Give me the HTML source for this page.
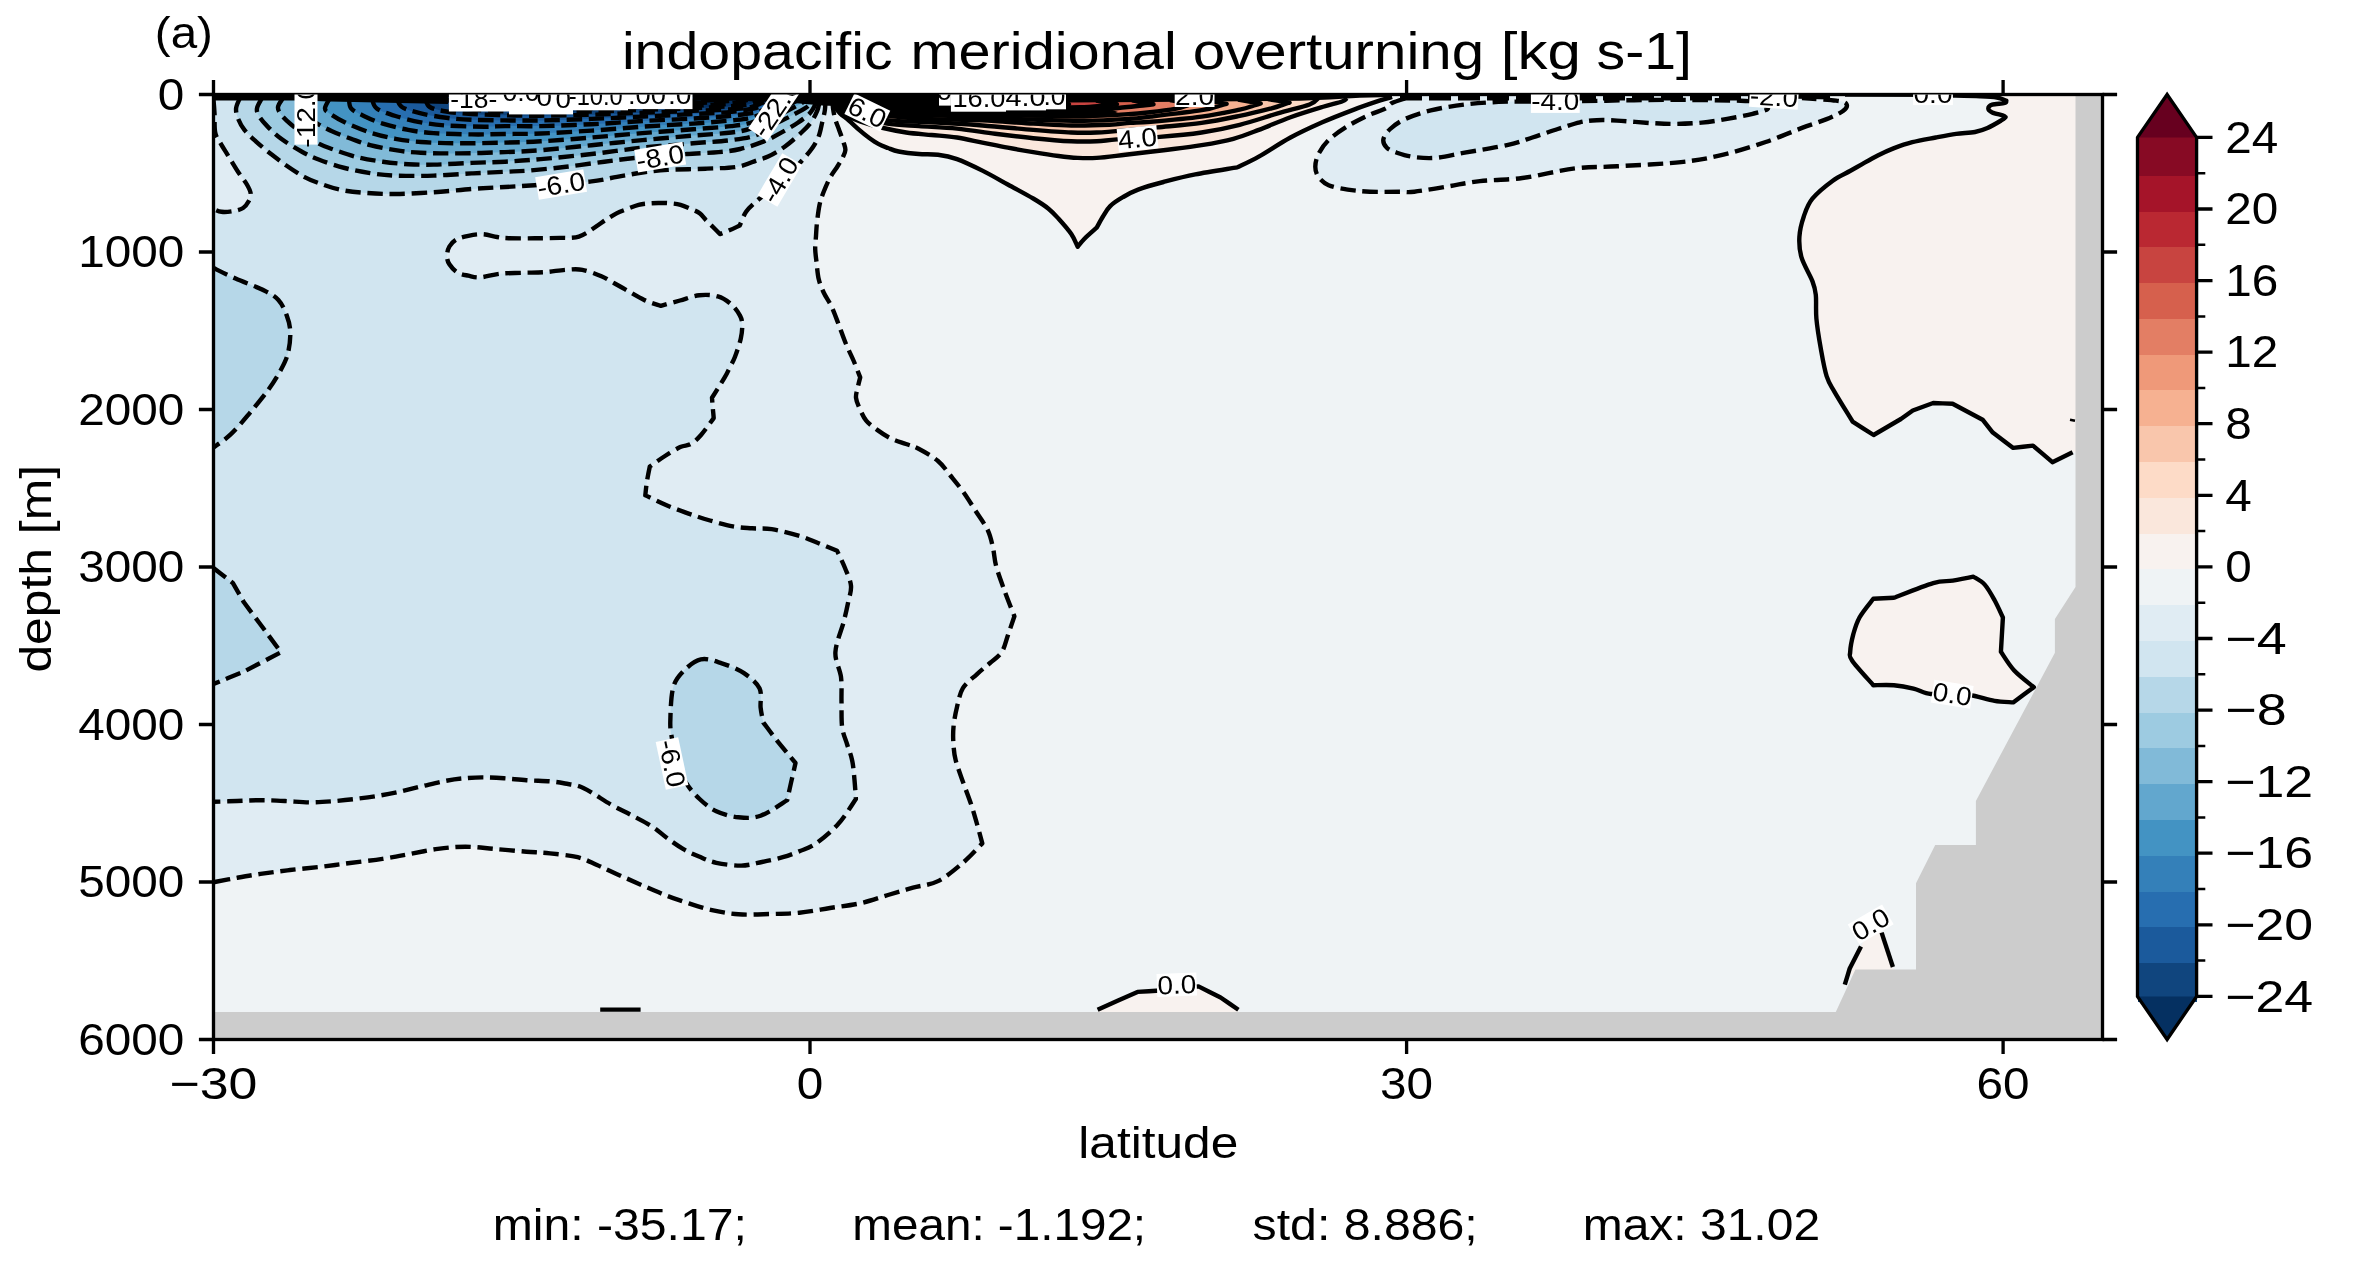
<!DOCTYPE html>
<html lang="en"><head><meta charset="utf-8"><title>indopacific meridional overturning</title>
<style>html,body{margin:0;padding:0;background:#fff;width:2362px;height:1263px}svg{display:block;will-change:transform;transform:translateZ(0)}text{font-family:"Liberation Sans", sans-serif;fill:#000}</style>
</head><body>
<svg width="2362" height="1263" viewBox="0 0 2362 1263">
<rect width="2362" height="1263" fill="#fff"/>
<defs><clipPath id="ax"><rect x="213.5" y="94.5" width="1889" height="945"/></clipPath></defs>
<g clip-path="url(#ax)">
<g>
<rect x="211.5" y="92.5" width="1893" height="949" fill="#eff3f5"/>
<path d="M832.5 100 C832.6 101.3 832.6 104.9 833 108 C833.4 111.1 834 114.8 835 118.5 C836 122.2 837.9 126.5 839.3 130.4 C840.7 134.3 842.5 138.9 843.5 142.2 C844.5 145.5 845.5 147.4 845.4 150 C845.3 152.6 844 154.8 842.7 157.5 C841.4 160.2 839.5 163.1 837.4 166.5 C835.3 169.9 832.4 173.4 830 177.8 C827.6 182.2 825 188.5 823.2 193 C821.5 197.5 820.5 200.1 819.5 205 C818.5 209.9 817.6 217.2 817 222.4 C816.4 227.6 816.3 231.6 816 236 C815.7 240.4 815.1 244.7 815.2 249 C815.3 253.3 815.9 257 816.5 262 C817.1 267 817.5 274 818.7 279.1 C819.9 284.2 821.7 288.2 823.8 292.7 C825.9 297.2 829 301.1 831.4 306.2 C833.8 311.3 835.8 317 838.2 323.2 C840.6 329.4 843.2 337.3 845.8 343.5 C848.3 349.7 851.1 354.9 853.5 360.5 C855.9 366.1 859.1 374.6 860.2 377.4 C859.8 379.1 858.4 384.2 857.7 387.6 C857 391 855.7 394.3 856 397.7 C856.3 401.1 857.7 404.1 859.4 407.9 C861.1 411.7 863.2 416.9 866.2 420.6 C869.2 424.3 873.1 426.9 877.2 429.9 C881.3 432.9 885.9 436 890.7 438.4 C895.5 440.8 901.4 442.3 906 444 C910.6 445.7 913.3 446 918.6 448.8 C923.9 451.6 932.8 456.6 938 461 C943.2 465.4 945.9 469.9 950 475 C954.1 480.1 958.7 485.6 962.9 491.4 C967.1 497.2 970.9 503.5 975 510 C979.1 516.5 984.8 523.9 987.8 530.2 C990.8 536.5 991.6 542 993 548 C994.4 554 994.2 559 996.2 566.3 C998.2 573.6 1002 583.7 1005 592 C1008 600.3 1012.8 612.2 1014.4 616.2 C1013.3 619.3 1010.1 629 1008 635 C1005.9 641 1004.7 647.5 1001.7 652.2 C998.7 656.9 994.1 659.3 990 663 C985.9 666.7 981.3 670.1 976.8 674.3 C972.3 678.5 966.2 682.8 962.9 688.2 C959.6 693.7 958.6 700.5 957 707 C955.4 713.5 954.1 720.7 953.5 727 C952.9 733.3 953.1 739.5 953.5 745 C953.9 750.5 954.1 754 955.7 760.2 C957.3 766.4 960.4 774.6 963 782 C965.6 789.4 968.9 797.6 971.2 804.6 C973.5 811.6 975.1 817.5 977 824 C978.9 830.5 981.4 840.2 982.3 843.4 C979.1 846.6 970.3 856.5 962.9 862.8 C955.5 869.1 946.3 877 938 881.1 C929.7 885.2 921.3 885.4 913 887.7 C904.7 890 896.8 892.4 888 895 C879.2 897.6 870.1 901 860.4 903.2 C850.7 905.4 840.2 906.4 830 908 C819.8 909.6 809.4 911.7 799.4 912.7 C789.4 913.7 780.2 913.7 770 914 C759.8 914.3 748.3 915 738.4 914.3 C728.5 913.6 719.6 911.9 710.7 909.9 C701.8 907.9 693.3 904.8 685 902 C676.7 899.2 672.2 898 660.8 893.3 C649.4 888.6 627.1 878.6 616.5 873.9 C605.9 869.2 603.5 867.8 597 865 C590.5 862.2 585.5 859.1 577.7 857.2 C569.9 855.3 558.5 854.3 550 853.4 C541.5 852.5 535.7 852.4 526.5 851.7 C517.3 851 505.1 849.8 495 849 C484.9 848.2 475.1 846.7 465.6 846.7 C456.1 846.7 447.1 847.7 437.8 848.9 C428.5 850.1 419.2 852.3 410 854 C400.8 855.7 392.4 857.4 382.4 858.9 C372.4 860.4 360.1 861.7 350 863 C339.9 864.3 331.5 865.5 321.5 866.7 C311.5 867.9 300.2 868.8 290 870 C279.8 871.2 269.5 872.6 260.5 873.9 C251.5 875.2 243.8 876.6 236 878 C228.2 879.4 217.2 881.5 213.5 882.2 L211.5 882.2 L211.5 92.5 L832.5 92.5Z" fill="#e0ecf3"/>
<path d="M825.5 100 C825.4 101.7 825.4 106.3 824.9 110 C824.4 113.7 823.3 117.7 822.3 121.9 C821.3 126.1 820.4 131.5 819 135.4 C817.6 139.3 816 142.2 813.9 145.6 C811.8 149 809 152.4 806.2 155.8 C803.4 159.2 800.7 162 797 166 C793.3 170 788.5 176 784 180 C779.5 184 774.6 186.5 770 190 C765.4 193.5 760.6 197.6 756.6 201.2 C752.6 204.8 748.9 207.7 746.1 211.8 C743.3 215.9 740.8 223.3 739.7 225.6 C738.1 226.3 733.3 228.6 730 230 C726.7 231.4 721.6 233.4 719.9 234.1 C718.8 232.9 715.3 229.3 713 227 C710.7 224.7 708.1 222.3 705.9 220.1 C703.7 217.8 702.1 215.2 700 213.5 C697.9 211.8 696.5 211.3 693.2 209.9 C690 208.5 684.5 206 680.5 204.9 C676.5 203.8 672.6 203.5 669 203.2 C665.4 202.9 662.4 202.9 658.9 203 C655.4 203.1 651.4 203.2 648 203.5 C644.6 203.8 642.1 204 638.6 204.9 C635.1 205.8 630.6 207.6 627 209 C623.4 210.4 620.3 211.4 617 213.1 C613.7 214.8 610.2 217 607 219 C603.8 221 601.2 223 598 225.2 C594.8 227.4 591.2 230.1 588 232 C584.8 233.9 581.9 235.6 578.9 236.6 C575.9 237.6 573.2 237.7 570 237.9 C566.8 238.1 565.7 237.8 559.9 237.9 C554.1 238 543.5 238.2 535 238.3 C526.5 238.4 515.1 238.4 508.8 238.2 C502.5 238 501.4 237.7 497 237 C492.6 236.3 487.5 234.4 482.7 234.2 C477.9 234 472.8 234.9 468.4 235.8 C464 236.7 459.7 237.6 456.5 239.4 C453.3 241.2 451 243.7 449.4 246.5 C447.8 249.3 447 253 447 256 C447 259 447.6 261.5 449.4 264.3 C451.2 267.1 454.5 270.7 457.7 272.6 C460.9 274.5 464.6 274.9 468.4 275.7 C472.2 276.5 475.1 277.7 480.3 277.4 C485.5 277.1 492.4 274.6 499.3 273.8 C506.2 273 514.5 273.1 522 272.8 C529.5 272.5 537.1 272.7 544.4 272.2 C551.7 271.7 559.5 270.2 565.8 269.8 C572.1 269.4 576.5 268.7 582.4 269.8 C588.3 270.9 596.5 274.2 601.4 276.2 C606.3 278.2 608.4 280 612 282 C615.6 284 617.4 285 622.8 288 C628.2 291 637.9 297 644.2 300 C650.5 303 658 304.9 660.8 305.9 C664 305 673.6 302.3 680 300.5 C686.4 298.7 693 295.9 699.3 295.2 C705.6 294.5 712.5 294.8 717.9 296.4 C723.3 297.9 727.8 301.3 731.5 304.5 C735.2 307.7 738.2 312.2 740 315.6 C741.8 319 742.1 321.1 742.2 324.9 C742.3 328.7 742 333 740.8 338.4 C739.6 343.8 736.7 352.3 734.9 357.1 C733.1 361.9 731.7 363.6 730 367 C728.3 370.4 727.7 372.3 724.7 377.4 C721.7 382.5 714.1 394.3 712 397.7 C712.1 399.4 712.5 404.6 712.8 408 C713.1 411.4 713.6 416.4 713.7 418.1 C711.6 420.9 704.8 430.7 701 435 C697.2 439.3 694.3 442 690.8 444 C687.3 446 684.5 445.1 680.2 447.1 C675.9 449.1 670.1 452.8 665 456 C659.9 459.2 652.3 464.8 649.8 466.5 C649.3 468.9 647.8 476.2 647 481 C646.2 485.8 645.6 492.9 645.3 495.3 C648.8 496.9 658.8 501.9 666 505 C673.2 508.1 681.3 511 688.6 513.6 C695.9 516.2 702.6 518.4 710 520.5 C717.4 522.6 725.9 525.1 732.9 526.4 C739.9 527.7 745.5 527.8 752 528.3 C758.5 528.8 763.8 527.9 771.7 529.1 C779.6 530.4 791.7 533.5 799.4 535.8 C807.1 538.1 811.7 540.5 818 543 C824.3 545.5 833.9 549.5 837.1 550.8 C838.4 553.7 842.7 562.2 845 568 C847.3 573.8 850.5 579.9 851 585.7 C851.5 591.5 849.2 597 848 603 C846.8 609 845.8 613.5 843.7 621.7 C841.6 629.9 835.9 643 835.4 652.2 C834.9 661.4 840 668.8 841 677.1 C842 685.4 841.3 693.7 841.5 702 C841.7 710.3 841.2 720 842.1 727 C843 734 845.3 738.5 847 744 C848.7 749.5 850.9 754.2 852.1 760.2 C853.4 766.2 853.9 773.5 854.5 780 C855.1 786.5 855.7 795.8 855.9 799 C853 803.2 844.9 816.6 838.2 824 C831.6 831.4 822.4 838.9 816 843.4 C809.6 847.9 805.5 848.7 800 851 C794.5 853.3 789.1 855.4 782.8 857.2 C776.5 859 768.9 860.6 762 862 C755.1 863.4 748.8 865.5 741.2 865.6 C733.6 865.7 723.3 864.3 716.3 862.8 C709.3 861.3 704.5 858.8 699 856.5 C693.5 854.2 688.3 852 683 848.9 C677.7 845.8 672.1 841.7 667 838 C661.9 834.3 658.3 830.5 652.5 826.8 C646.7 823 638.9 819.2 632 815.5 C625.1 811.8 619.1 809.2 611 804.6 C602.9 800 591 791.5 583.3 788 C575.6 784.5 570.5 784.6 565 783.5 C559.5 782.4 556.4 781.8 550 781.3 C543.6 780.8 534.2 780.7 526.5 780.2 C518.8 779.7 511.4 778.8 504 778.3 C496.6 777.8 489.2 777.4 482.2 777.4 C475.2 777.4 468.5 777.9 462 778.5 C455.5 779.1 450.2 780 443.4 781.3 C436.6 782.6 428.4 784.8 421 786.5 C413.6 788.2 406.3 790.2 399 791.8 C391.7 793.4 384.4 794.8 377 796 C369.6 797.2 362.2 798.1 354.7 799 C347.2 799.9 339.4 800.7 332 801.3 C324.6 801.9 318.2 802.4 310.4 802.4 C302.6 802.4 293.3 801.4 285 801 C276.7 800.6 268.5 800.2 260.5 800.2 C252.5 800.2 244.8 800.7 237 801 C229.2 801.3 217.4 801.7 213.5 801.8 L211.5 801.8 L211.5 92.5 L825.5 92.5Z" fill="#d1e5f0"/>
<path d="M213.5 100 C213.7 102.2 214.2 107.6 214.5 113 C214.8 118.4 214.2 127.6 215.2 132.5 C216.1 137.4 218.1 138.8 220.2 142.6 C222.3 146.4 224.9 150.4 227.9 155.3 C230.9 160.2 234.8 166.9 238 171.8 C241.2 176.7 244.8 180.9 246.9 184.5 C249 188.1 250.4 190.7 250.7 193.4 C251 196.2 250.1 198.6 248.8 201 C247.5 203.4 245.8 206.3 243.1 208 C240.4 209.7 236.5 210.6 232.9 211.2 C229.3 211.8 224.7 212.2 221.5 211.8 C218.3 211.4 214.8 209.5 213.5 209 L211.5 209 L211.5 100Z" fill="#e0ecf3"/>
<path d="M240 98 C239.3 99.7 236.4 104.9 236.1 108.3 C235.8 111.7 236.6 114.9 238 118.5 C239.4 122.1 241.4 126.1 244.4 129.9 C247.4 133.7 251.4 137.3 255.8 141.3 C260.2 145.3 265.9 150 271 154 C276.1 158 280.8 161.7 286.3 165.5 C291.8 169.3 298.6 173.9 304.1 176.9 C309.6 179.9 313.4 181.2 319.3 183.3 C325.2 185.4 332.2 188 339.6 189.6 C347 191.2 354.5 192.1 363.8 192.8 C373.1 193.5 383.9 194.1 395.5 194 C407.1 193.9 420.9 193 433.6 192.2 C446.3 191.4 459.8 189.9 471.7 189 C483.6 188.1 494.5 187.6 505 187 C515.5 186.4 525.2 185.9 534.5 185.2 C543.8 184.5 551.5 183.6 561 183 C570.5 182.4 582.3 182.4 591.6 181.4 C600.9 180.4 608.5 178.4 617 176.9 C625.5 175.4 633.9 173.7 642.4 172.5 C650.9 171.3 657.2 170.5 667.8 169.9 C678.4 169.3 694.2 169.2 705.9 168.7 C717.5 168.2 729.2 168.1 737.7 166.7 C746.2 165.3 751.6 162.1 756.7 160.4 C761.8 158.7 763.4 158.9 768.1 156.6 C772.8 154.3 779.4 150.6 785 146.5 C790.6 142.4 797.6 136.1 802 132 C806.4 127.9 808.8 125.4 811.3 121.9 C813.8 118.4 815.8 114.2 817.2 110.9 C818.6 107.6 819.1 103.5 819.5 102 L819.5 92.5 L240 92.5Z" fill="#b6d7e8"/>
<path d="M262 98 C261.2 99.7 257.5 105.3 257 108.3 C256.5 111.3 257.3 113 259 116 C260.7 119 263.5 122.3 267.2 126.1 C270.9 129.9 275.5 134.6 281.2 138.8 C286.9 143 295.1 148 301.5 151.5 C307.9 155 312.1 157.1 319.3 159.8 C326.5 162.6 336.2 165.8 344.7 168 C353.2 170.2 361.6 171.8 370.1 173.1 C378.6 174.4 384.9 175.2 395.5 175.6 C406.1 176 420.9 176 433.6 175.6 C446.3 175.2 459.8 174 471.7 173.4 C483.6 172.8 495.6 172.3 505 171.8 C514.4 171.3 517.9 171.4 528.1 170.6 C538.3 169.8 553.5 168.3 566.2 166.8 C578.9 165.3 592.6 163.2 604.3 161.7 C615.9 160.2 626.8 158.8 636.1 157.9 C645.4 157 651.7 156.7 660.2 156 C668.7 155.3 677.2 154.7 686.9 154 C696.6 153.3 709.7 152.9 718.6 152.1 C727.5 151.3 732.7 150.8 740.2 149 C747.8 147.2 757.1 144.1 763.9 141.4 C770.7 138.7 775.1 136 780.8 132.9 C786.4 129.8 792.8 126.1 797.8 122.7 C802.8 119.3 807.4 116 810.5 112.6 C813.6 109.1 815.5 103.8 816.5 102 L816.5 92.5 L262 92.5Z" fill="#9dcbe1"/>
<path d="M283 98 C282.2 99.5 278.3 104.2 278 107 C277.7 109.8 279 111.7 281.2 114.7 C283.4 117.7 287.4 121.5 291.4 124.8 C295.4 128.1 300.4 131.3 305 134.5 C309.6 137.7 314.8 141.5 319.3 143.9 C323.8 146.3 325.6 146.8 332 149 C338.4 151.2 348.9 155.1 357.4 157.2 C365.9 159.3 374.3 160.5 382.8 161.7 C391.3 162.9 399.7 163.7 408.2 164.2 C416.7 164.7 423 164.8 433.6 164.6 C444.2 164.4 459.8 163.4 471.7 162.9 C483.6 162.4 493.5 162.3 505 161.7 C516.5 161.1 526.4 160.4 540.8 159.1 C555.2 157.8 574.7 155.9 591.6 154 C608.5 152.1 625.5 149.5 642.4 147.7 C659.3 145.9 678.4 144.6 693.2 143.3 C708 142 720.7 141.5 731.3 140.1 C741.9 138.7 749.9 137.5 756.7 135 C763.6 132.5 767 128.3 772.4 125.3 C777.8 122.3 783.7 119.8 789.3 116.8 C794.9 113.8 802.4 110.1 806.2 107.5 C810 104.9 811 102.1 812 101 L812 92.5 L283 92.5Z" fill="#81bad8"/>
<path d="M305 98 C304.3 99.3 301.2 103.5 301 106 C300.8 108.5 302.3 110.8 304 113 C305.7 115.2 308.4 117.5 311 119.5 C313.6 121.5 315.8 122.8 319.3 124.8 C322.8 126.8 326.7 128.9 332 131.2 C337.3 133.5 344.8 136.5 351.1 138.8 C357.5 141.1 362.7 143.3 370.1 145.2 C377.5 147.1 387 148.9 395.5 150.2 C404 151.5 410.3 152.3 420.9 152.8 C431.5 153.3 445 153.5 459 153.4 C473 153.3 491.4 152.6 505 152.1 C518.6 151.6 526.4 151.3 540.8 150.2 C555.2 149 574.7 146.9 591.6 145.2 C608.5 143.5 625.5 141.7 642.4 140.1 C659.3 138.5 678.4 136.9 693.2 135.6 C708 134.3 721.8 133.7 731.3 132.5 C740.8 131.3 744.3 130.7 750.4 128.6 C756.5 126.5 762.1 122.8 768 120 C773.9 117.2 780.5 114.2 786 111.5 C791.5 108.8 797.7 105.4 801 103.5 C804.3 101.6 805.2 100.6 806 100 L806 92.5 L305 92.5Z" fill="#62a7ce"/>
<path d="M330 98 C329.2 99.7 325.1 105.7 325 108.3 C324.9 110.9 326.2 111.1 329.5 113.4 C332.8 115.7 337.9 119.1 344.7 122.3 C351.5 125.5 361.6 129.8 370.1 132.5 C378.6 135.2 387 137.2 395.5 138.8 C404 140.4 410.3 141.2 420.9 142 C431.5 142.8 445 143.2 459 143.3 C473 143.4 491.4 142.9 505 142.6 C518.6 142.3 526.4 142.2 540.8 141.3 C555.2 140.5 574.7 138.9 591.6 137.5 C608.5 136.1 625.5 134.5 642.4 133.1 C659.3 131.7 678.4 130.5 693.2 129.3 C708 128.1 721.8 127.2 731.3 126.1 C740.8 125 744.3 124.7 750.4 122.9 C756.5 121.1 762.4 118 768 115.5 C773.6 113 779 110.6 784 108 C789 105.4 795.7 101.3 798 100 L798 92.5 L330 92.5Z" fill="#4393c3"/>
<path d="M349 98 C349.4 99.7 348.6 105.3 351.1 108.3 C353.6 111.3 358.5 113.4 363.8 115.9 C369.1 118.5 375.4 121.3 382.8 123.6 C390.2 125.9 399.7 128.3 408.2 129.9 C416.7 131.5 423 132.3 433.6 133.1 C444.2 133.8 459.8 134.2 471.7 134.4 C483.6 134.6 493.5 134.2 505 134 C516.5 133.8 526.4 134.1 540.8 133.5 C555.2 132.9 574.7 131.7 591.6 130.6 C608.5 129.5 625.5 127.9 642.4 126.7 C659.3 125.5 678.4 124.6 693.2 123.6 C708 122.5 721.8 121.4 731.3 120.4 C740.8 119.4 744.3 119.3 750.4 117.8 C756.5 116.3 762.7 113.6 768 111.5 C773.3 109.4 778 107.1 782 105 C786 102.9 790.3 100 792 99 L792 92.5 L349 92.5Z" fill="#3480b9"/>
<path d="M372 98 C372.8 99.7 372.6 105.3 376.5 108.3 C380.4 111.3 388.1 113.7 395.5 116 C402.9 118.3 412.4 120.7 420.9 122.3 C429.4 123.9 435.7 124.8 446.3 125.5 C456.9 126.2 474.6 126.6 484.4 126.7 C494.2 126.8 495.6 126.2 505 126.1 C514.4 126 526.4 126.4 540.8 126.1 C555.2 125.8 574.7 125 591.6 124.2 C608.5 123.4 625.5 122 642.4 121 C659.3 120 678.4 119.4 693.2 118.5 C708 117.6 720.7 116.8 731.3 115.7 C741.9 114.6 749.9 113.7 756.7 112.1 C763.5 110.5 767.5 108.2 772 106 C776.5 103.8 782 100.2 784 99 L784 92.5 L372 92.5Z" fill="#276eb0"/>
<path d="M397 98 C397.8 99.5 397.9 104.4 401.9 107 C405.9 109.6 413.5 111.6 420.9 113.4 C428.3 115.2 437.8 116.7 446.3 117.8 C454.8 118.9 461.9 119.4 471.7 119.8 C481.5 120.2 493.5 120.3 505 120.4 C516.5 120.5 526.4 120.7 540.8 120.4 C555.2 120.2 574.7 119.5 591.6 118.9 C608.5 118.3 625.5 117.4 642.4 116.6 C659.3 115.8 678.4 114.8 693.2 114 C708 113.2 720.8 112.9 731.3 111.9 C741.8 110.9 749.5 109.5 756 108 C762.5 106.5 766.3 104.7 770 103 C773.7 101.3 776.7 98.8 778 98 L778 92.5 L397 92.5Z" fill="#1b5a9c"/>
<path d="M425 98 C425.8 99.5 426.2 104.8 429.8 107 C433.4 109.2 439.3 110.3 446.3 111.5 C453.3 112.7 461.9 113.4 471.7 114 C481.5 114.6 493.5 115 505 115.3 C516.5 115.6 526.4 115.8 540.8 115.7 C555.2 115.6 574.7 115.2 591.6 114.7 C608.5 114.2 625.5 113.4 642.4 112.8 C659.3 112.2 676.3 111.7 693.2 110.9 C710.1 110.2 732.5 109.6 744 108.3 C755.5 107 757.5 104.7 762 103 C766.5 101.3 769.5 98.8 771 98 L771 92.5 L425 92.5Z" fill="#10457e"/>
<path d="M448 98 C449.2 99.3 451.1 104.1 455 106 C458.9 107.9 463.4 108.6 471.7 109.5 C480 110.4 493.5 110.9 505 111.3 C516.5 111.7 526.4 111.7 540.8 111.7 C555.2 111.7 574.7 111.8 591.6 111.5 C608.5 111.2 625.5 110.3 642.4 109.8 C659.3 109.3 676.9 109 693.2 108.3 C709.5 107.6 729.4 106.5 740 105.5 C750.6 104.5 752.7 103.2 756.7 102 C760.7 100.8 762.8 98.7 764 98 L764 92.5 L448 92.5Z" fill="#053061"/>
<path d="M470 98 C471.3 99.1 472.2 102.9 478 104.5 C483.8 106.1 494.5 107.1 505 107.8 C515.5 108.5 526.4 108.3 540.8 108.4 C555.2 108.5 574.7 108.6 591.6 108.4 C608.5 108.2 625.5 107.5 642.4 107 C659.3 106.5 677.8 106.4 693.2 105.7 C708.6 105 725.2 104.3 735 103 C744.8 101.7 749.2 98.8 752 98 L752 92.5 L470 92.5Z" fill="#053061"/>
<path d="M495 98 C496.7 99.1 497.4 103.2 505 104.5 C512.6 105.8 526.4 105.4 540.8 105.6 C555.2 105.8 574.7 105.8 591.6 105.6 C608.5 105.4 625.5 104.9 642.4 104.5 C659.3 104.1 678.9 103.8 693.2 103.2 C707.5 102.6 719.9 101.9 728 101 C736.1 100.1 739.7 98.5 742 98 L742 92.5 L495 92.5Z" fill="#053061"/>
<path d="M525 98 C527.6 98.8 529.7 102 540.8 102.8 C551.9 103.6 574.7 103.1 591.6 103 C608.5 102.9 625.5 102.5 642.4 102.2 C659.3 101.9 680.3 101.5 693.2 101 C706.1 100.5 713.9 100 720 99.5 C726.1 99 728.3 98.2 730 98 L730 92.5 L525 92.5Z" fill="#053061"/>
<path d="M560 98 C563.3 98.4 570 100.2 580 100.6 C590 101 606.7 100.7 620 100.6 C633.3 100.5 648.3 100.3 660 100 C671.7 99.7 683.3 99.3 690 99 C696.7 98.7 698.3 98.2 700 98 L700 92.5 L560 92.5Z" fill="#053061"/>
<path d="M213.5 268 C217.2 269.8 227.2 274.9 235.6 278.6 C244 282.4 257 286.9 264.1 290.5 C271.2 294.1 274.6 295.9 278.4 300 C282.2 304.1 284.7 310.1 286.7 315.4 C288.7 320.7 290.1 325.7 290.3 332 C290.5 338.3 289.5 347.1 287.9 353.4 C286.3 359.7 284 364.1 280.8 370 C277.6 375.9 274 381.9 268.9 389 C263.8 396.1 256.2 405.3 249.9 412.8 C243.6 420.3 237 428.4 230.9 434.2 C224.8 440 216.4 445.3 213.5 447.5 L211.5 447.5 L211.5 268Z" fill="#b6d7e8"/>
<path d="M213.5 568 C216.7 570.5 229.6 580.4 232.8 582.9 C234.7 586.1 242.1 599.1 243.9 602.3 C246.7 606 257.7 620.8 260.5 624.5 C263.9 629.1 277.6 647.6 281 652.2 C274.8 655.4 250.1 668.4 243.9 671.6 C238.8 673.7 218.6 681.9 213.5 684 L211.5 684 L211.5 568Z" fill="#b6d7e8"/>
<path d="M700.8 659.4 C694.3 660.8 687.6 666.8 683 671.6 C678.4 676.4 675.1 679.9 673 688.2 C670.9 696.5 670.5 713.2 670.3 721.5 C670.1 729.8 670.9 731.7 671.9 738.1 C672.9 744.5 673.7 752.6 676 760 C678.3 767.4 681.9 775.9 685.8 782.4 C689.7 788.9 694.5 794.2 699.6 799 C704.7 803.8 709.8 808.2 716.3 811.2 C722.8 814.2 731 816.5 738.4 817.3 C745.8 818 752.5 818.6 760.6 815.7 C768.7 812.9 782.8 802.8 787.2 800.2 C787.9 797.2 789.7 788.6 791.1 782.4 C792.5 776.2 794.8 766.2 795.5 763 C792.5 759.3 782.6 747.6 777.2 740.9 C771.9 734.2 765.7 725.6 763.4 722.6 C762.9 720.1 761.2 713.3 760.6 707.6 C760 701.9 762.3 693.9 759.5 688.2 C756.7 682.5 750.3 677.4 744 673.2 C737.7 669.1 729 665.6 721.8 663.3 C714.6 661 707.3 658 700.8 659.4Z" fill="#b6d7e8"/>
<path d="M1405 98.5 C1402.8 99.2 1395.2 101.4 1392 103 C1388.8 104.6 1390 106.1 1385.8 108.3 C1381.6 110.5 1373 113 1366.7 116 C1360.4 119 1354.1 122.1 1347.7 126.1 C1341.3 130.1 1333.5 135.4 1328.6 140.1 C1323.7 144.8 1320.7 149.6 1318.5 154 C1316.3 158.4 1315.3 162.9 1315.3 166.7 C1315.3 170.5 1316.3 173.8 1318.5 176.9 C1320.7 180 1323.7 183.1 1328.6 185.2 C1333.5 187.3 1340.8 188.5 1347.7 189.6 C1354.6 190.7 1361.2 191.3 1369.9 191.7 C1378.6 192.1 1392.6 191.8 1400 191.8 C1407.4 191.8 1406.3 192.6 1414.3 191.7 C1422.3 190.8 1437.3 188.2 1448.2 186.4 C1459.1 184.6 1467.6 182.5 1479.9 181.1 C1492.2 179.7 1506.4 180.1 1522.3 178 C1538.2 175.9 1559.3 170.3 1575.2 168.4 C1591.1 166.5 1599.9 167.4 1617.5 166.3 C1635.1 165.2 1663.3 164 1681 162.1 C1698.7 160.2 1709.3 158 1723.4 154.7 C1737.5 151.3 1752.6 146.5 1765.7 142 C1778.8 137.5 1792 131.7 1802 127.9 C1812 124.1 1819.2 122.2 1826 119.4 C1832.8 116.6 1839.6 113.5 1843 110.9 C1846.4 108.3 1847.6 105.7 1846.4 104 C1845.2 102.3 1843.4 101.6 1836 100.6 C1828.6 99.6 1807.7 98.4 1802 98 L1802 92.5 L1405 92.5Z" fill="#e0ecf3"/>
<path d="M1530 101.6 C1516.2 101.7 1509.4 101.4 1498.5 101.9 C1487.6 102.4 1476 103.1 1464.7 104.5 C1453.4 105.9 1440.7 108 1430.8 110.4 C1420.9 112.8 1412.2 115.8 1405.4 118.9 C1398.6 122 1393.9 125.6 1390.2 129 C1386.5 132.4 1384 136.1 1383.4 139.2 C1382.8 142.3 1384.5 145.4 1386.8 147.7 C1389 149.9 1392.4 151.1 1396.9 152.7 C1401.4 154.2 1407.4 156.2 1413.9 157 C1420.4 157.8 1427.4 158.5 1435.9 157.8 C1444.4 157.1 1452.9 154.8 1464.7 152.7 C1476.5 150.6 1495.7 147.6 1507 145.1 C1518.3 142.6 1523.9 140.2 1532.4 137.5 C1540.9 134.8 1549.9 131.5 1557.8 129 C1565.7 126.5 1573.3 123.8 1579.8 122.3 C1586.3 120.8 1590.6 120.5 1596.8 120.2 C1603 119.9 1608.1 120.1 1617.1 120.6 C1626.1 121.1 1641.1 122.5 1651 123.1 C1660.9 123.6 1667.9 124 1676.4 123.9 C1684.9 123.8 1693.3 123.4 1701.8 122.6 C1710.3 121.8 1718.7 120.4 1727.2 118.9 C1735.7 117.4 1745.8 115.5 1752.6 113.8 C1759.4 112.1 1766.6 110.5 1767.8 108.7 C1769 106.9 1763.1 104.3 1760 103 C1756.9 101.7 1753.3 101.5 1749.2 101.1 C1745.1 100.7 1746.3 100.8 1735.6 100.6 C1724.9 100.4 1701.7 100 1684.8 99.9 C1667.9 99.8 1651.2 100 1634 100.2 C1616.8 100.4 1598.8 100.9 1581.5 101.1 C1564.2 101.3 1543.8 101.5 1530 101.6Z" fill="#d1e5f0"/>
<path d="M833.5 100 C833.8 101.2 834.4 105.1 835.5 107.3 C836.6 109.5 837.9 111.2 840.1 113.4 C842.3 115.6 845.4 117.5 848.6 120.2 C851.8 123 856 127.1 859.2 129.9 C862.4 132.7 864.8 134.7 868 137 C871.2 139.3 875 142.1 878.3 143.9 C881.6 145.7 884.6 146.7 888 148 C891.4 149.3 893.5 150.5 898.6 151.5 C903.8 152.5 912.3 153.5 918.9 154 C925.5 154.5 931.6 153.8 938 154.7 C944.4 155.5 949.6 156.4 957 159.1 C964.4 161.8 973.9 166.4 982.4 170.6 C990.9 174.8 999.3 179.8 1007.8 184.5 C1016.3 189.2 1026.4 194.5 1033.2 198.5 C1040 202.5 1044.3 205.3 1048.5 208.7 C1052.7 212.1 1054.8 214.6 1058.6 218.8 C1062.4 223 1068.1 229.4 1071.3 234.1 C1074.5 238.8 1076.6 244.7 1077.7 246.8 C1078.8 245.5 1080.8 242.4 1084 239.2 C1087.2 236 1094.6 229.6 1096.7 227.7 C1097.8 225.8 1100.8 219.9 1103.1 216.3 C1105.3 212.7 1106.9 209.3 1110.2 206.1 C1113.5 202.9 1118.2 199.9 1122.9 197.2 C1127.6 194.4 1131.3 192.1 1138.1 189.6 C1144.9 187.1 1154 184.5 1163.5 182 C1173 179.5 1183 176.8 1195.3 174.4 C1207.6 172 1230.2 168.6 1237.2 167.4 C1240.8 165.6 1249.9 161.6 1258.8 156.6 C1267.7 151.6 1279.9 143.2 1290.5 137.5 C1301.1 131.8 1311.7 127 1322.3 122.3 C1332.9 117.6 1344.5 113.2 1354 109.6 C1363.5 106 1373.1 102.8 1379.4 100.7 C1385.8 98.6 1390 97.6 1392.1 97 L1392.1 92.5 L833.5 92.5Z" fill="#f8f2ef"/>
<path d="M835 100 C835.4 101.4 836 105.9 837.6 108.3 C839.2 110.7 840.7 112.1 844.4 114.3 C848.1 116.5 853.5 119.2 860 121.5 C866.5 123.8 875.6 126.2 883.3 128 C891 129.8 898.2 131.3 906.2 132.5 C914.2 133.7 923.1 134.2 931.6 135 C940.1 135.8 948.5 136.2 957 137.5 C965.5 138.8 973.9 140.9 982.4 142.6 C990.9 144.3 999.3 146.1 1007.8 147.7 C1016.3 149.3 1024.7 150.7 1033.2 152.1 C1041.7 153.5 1051.2 155 1058.6 156 C1066 157 1071.3 157.6 1077.7 157.9 C1084.1 158.2 1088.8 158.4 1096.7 157.9 C1104.7 157.4 1114.3 156 1125.4 154.7 C1136.5 153.4 1150.8 151.8 1163.5 150.2 C1176.2 148.6 1189.9 147.1 1201.6 145.2 C1213.2 143.3 1223.9 141.4 1233.4 138.8 C1242.9 136.2 1249.3 133.5 1258.8 129.9 C1268.3 126.3 1279.9 121 1290.5 117.2 C1301.1 113.4 1313.7 109.6 1322.3 107 C1330.9 104.4 1337.9 103 1342 101.5 C1346.1 100 1346.2 98.6 1347 98 L1347 92.5 L835 92.5Z" fill="#fae7dc"/>
<path d="M836.5 100 C837.1 101.2 838.1 105 840 107 C841.9 109 843.7 110.1 848 112 C852.3 113.9 859.5 116.6 866 118.5 C872.5 120.4 878.4 122.3 887.2 123.6 C896 124.9 907.3 125.3 918.9 126.1 C930.5 126.9 944.3 127.3 957 128.6 C969.7 129.9 982.4 132.1 995.1 133.7 C1007.8 135.3 1020.5 136.9 1033.2 138.2 C1045.9 139.5 1060.7 140.8 1071.3 141.3 C1081.9 141.8 1089.1 141.6 1096.7 141.3 C1104.3 141 1106.5 140.1 1117 139.4 C1127.5 138.7 1145.6 138.1 1159.7 136.9 C1173.8 135.8 1188.3 134.5 1201.6 132.5 C1214.9 130.5 1227 128 1239.7 124.8 C1252.4 121.6 1266.2 116.8 1277.8 113.4 C1289.4 110 1302.8 107.1 1309.6 104.5 C1316.4 101.9 1317 99.1 1318.5 98 L1318.5 92.5 L836.5 92.5Z" fill="#fddbc7"/>
<path d="M838 100 C838.7 101 839.7 104.2 842 106 C844.3 107.8 847.3 108.8 852 110.5 C856.7 112.2 863.7 114.3 870 116 C876.3 117.7 879.4 119.4 889.7 120.4 C900 121.5 916.2 121.5 931.6 122.3 C947 123.1 965.5 124.2 982.4 125.5 C999.3 126.8 1018.4 128.7 1033.2 129.9 C1048 131.1 1060.7 132.1 1071.3 132.5 C1081.9 132.9 1086.9 132.9 1096.7 132.5 C1106.5 132.1 1119.9 130.8 1130 129.9 C1140.1 129.1 1145.3 128.6 1157.2 127.4 C1169.1 126.2 1187.8 124.8 1201.6 122.9 C1215.3 121 1228 118.3 1239.7 115.9 C1251.4 113.5 1264.1 110.2 1271.5 108.3 C1278.9 106.4 1281 105.2 1284 104.3 C1287 103.3 1288.7 102.9 1289.6 102.6 C1286 102 1271.6 99.8 1268 99.2 L1268 92.5 L838 92.5Z" fill="#f9c6ac"/>
<path d="M839.5 100 C840.4 100.9 841.9 103.8 845 105.5 C848.1 107.2 852.2 108.5 858 110 C863.8 111.5 872.2 113.2 880 114.5 C887.8 115.8 896.4 116.7 905 117.5 C913.6 118.3 918.7 118.6 931.6 119.1 C944.5 119.6 965.5 119.7 982.4 120.4 C999.3 121.2 1018.4 122.8 1033.2 123.6 C1048 124.4 1058.6 125.3 1071.3 125.5 C1084 125.7 1099.6 125.2 1109.4 124.8 C1119.2 124.4 1123.1 123.4 1130 122.9 C1136.9 122.4 1138.9 122.8 1150.8 121.7 C1162.7 120.7 1186.8 118.6 1201.6 116.6 C1216.4 114.6 1231 111.4 1239.7 109.6 C1248.4 107.8 1250.5 106.5 1254 105.5 C1257.5 104.5 1259.6 103.8 1260.7 103.4 C1256.9 102.8 1241.8 100.2 1238 99.6 L1238 92.5 L839.5 92.5Z" fill="#f6b191"/>
<path d="M841 100 C842.2 100.8 844.2 103.5 848 105 C851.8 106.5 857 107.8 864 109 C871 110.2 878.7 111.5 890 112.5 C901.3 113.5 916.2 114.2 931.6 115 C947 115.8 965.5 116.4 982.4 117.2 C999.3 118 1016.3 119 1033.2 119.6 C1050.1 120.2 1067.9 120.9 1084 120.8 C1100.1 120.7 1118.9 119.5 1130 118.8 C1141.1 118.1 1138.9 118 1150.8 116.6 C1162.7 115.2 1190.2 112 1201.6 110.2 C1213 108.4 1214.8 106.9 1219 105.8 C1223.2 104.7 1225.3 104.1 1226.6 103.8 C1222.8 103.1 1207.8 100.5 1204 99.8 L1204 92.5 L841 92.5Z" fill="#ef9979"/>
<path d="M842.5 100 C843.9 100.8 846.4 103.2 851 104.5 C855.6 105.8 861.8 107 870 108 C878.2 109 888.3 109.8 900 110.5 C911.7 111.2 925 111.5 940 112 C955 112.5 973.3 113 990 113.6 C1006.7 114.2 1024.3 115 1040 115.4 C1055.7 115.8 1069.8 116.4 1084 116.2 C1098.2 116 1114 115.1 1125 114.4 C1136 113.8 1141.5 113.3 1150 112.3 C1158.5 111.3 1170 109.7 1176.2 108.6 C1182.4 107.5 1184.4 106.4 1187 105.6 C1189.6 104.8 1191.2 104.3 1192 104 C1188.3 103.3 1173.7 100.7 1170 100 L1170 92.5 L842.5 92.5Z" fill="#e37e64"/>
<path d="M844 100 C845.8 100.7 849 102.9 855 104 C861 105.1 869.2 106 880 106.8 C890.8 107.6 905 108.1 920 108.6 C935 109.1 951.7 109.3 970 109.8 C988.3 110.3 1013.3 111.1 1030 111.4 C1046.7 111.7 1058.3 111.9 1070 111.6 C1081.7 111.3 1090.8 110.3 1100 109.6 C1109.2 108.9 1117.5 108 1125 107.3 C1132.5 106.6 1140.2 105.7 1145 105.2 C1149.8 104.7 1152.1 104.4 1153.5 104.2 C1149.9 103.6 1135.6 101 1132 100.4 L1132 92.5 L844 92.5Z" fill="#d6604d"/>
<path d="M846 100 C848.3 100.6 851.8 102.5 860 103.4 C868.2 104.3 880 104.9 895 105.4 C910 105.9 932.5 106.1 950 106.5 C967.5 106.9 985 107.3 1000 107.6 C1015 107.8 1026.7 108 1040 108 C1053.3 108 1069.2 107.7 1080 107.3 C1090.8 106.9 1098.8 106 1105 105.5 C1111.2 105 1115 104.4 1117 104.2 C1113.5 103.6 1099.5 101.2 1096 100.6 L1096 92.5 L846 92.5Z" fill="#c84440"/>
<path d="M848 100 C851.3 100.5 857.7 102.1 868 102.8 C878.3 103.5 894.7 103.6 910 104 C925.3 104.4 945 104.7 960 105 C975 105.3 986.7 105.9 1000 106 C1013.3 106.1 1030 106 1040 105.8 C1050 105.6 1055.2 105.1 1060 104.8 C1064.8 104.5 1067.5 104.3 1069 104.2 C1065.5 103.6 1051.5 101.2 1048 100.6 L1048 92.5 L848 92.5Z" fill="#ba2832"/>
<path d="M852 99.5 C856.7 99.9 868.7 101.1 880 101.8 C891.3 102.5 906.7 103 920 103.4 C933.3 103.8 948.3 103.9 960 104 C971.7 104.1 983.3 104 990 103.8 C996.7 103.6 998.3 103 1000 102.8 C997.5 102.6 987.5 101.6 985 101.4 L985 92.5 L852 92.5Z" fill="#a51429"/>
<path d="M858 99 C861.7 99.3 871.3 100.2 880 100.8 C888.7 101.4 902.5 102.2 910 102.4 C917.5 102.6 922.5 102.1 925 102 C922.5 101.8 912.5 101.2 910 101 L910 92.5 L858 92.5Z" fill="#870a24"/>
<path d="M1953 95.6 C1957.5 95.7 1972.7 96 1980 96.3 C1987.3 96.6 1992.5 96.8 1996.9 97.5 C2001.3 98.2 2004.7 100.2 2006.3 100.7 C2006 101.1 2007 102.3 2004.7 103 C2002.4 103.7 1994.9 103.7 1992.2 104.6 C1989.5 105.5 1988.3 107.2 1988.3 108.5 C1988.3 109.8 1989.7 111.2 1992.2 112.4 C1994.7 113.6 2001 114.7 2003.2 115.5 C2005.4 116.3 2005.1 116.8 2005.5 117.1 C2004.8 117.6 2004.6 118.4 2001.6 120.2 C1998.6 122 1991.9 126.1 1987.5 128.1 C1983.1 130.1 1980.2 131 1975 132 C1969.8 133 1962.7 133 1956.2 133.9 C1949.7 134.8 1943.1 136.1 1935.8 137.5 C1928.5 138.9 1919.3 140.4 1912.3 142.2 C1905.2 144 1899.2 146.2 1893.5 148.4 C1887.8 150.6 1883 152.9 1877.8 155.5 C1872.6 158.1 1866.8 161.5 1862.2 164.1 C1857.6 166.7 1854.9 168.2 1850 171 C1845.1 173.8 1839.1 176.1 1832.8 180.7 C1826.5 185.3 1817.2 192.8 1812.4 198.7 C1807.6 204.6 1806 210.1 1803.8 216.4 C1801.6 222.8 1799.8 230 1799.4 236.8 C1799 243.6 1799.3 249.9 1801.5 257.3 C1803.7 264.7 1810 274.9 1812.4 281.1 C1814.8 287.3 1815.1 288.4 1815.8 294.7 C1816.5 300.9 1815.6 309.5 1816.4 318.6 C1817.2 327.7 1819.2 339.6 1820.9 349.2 C1822.6 358.8 1824.4 369.3 1826.7 376.4 C1829 383.5 1830.2 384.3 1834.5 391.8 C1838.8 399.3 1849.6 416.6 1852.6 421.6 C1856.1 423.8 1870.1 432.8 1873.6 435 C1878.1 432.3 1896.4 421.7 1900.9 419 C1902.9 417.6 1910.8 411.9 1912.8 410.5 C1916.2 409.2 1929.8 404.2 1933.2 403 C1936.4 403.1 1949.4 403.6 1952.6 403.7 C1957.6 406.4 1977.6 417 1982.6 419.7 C1984.3 421.9 1991.1 430.5 1992.8 432.6 C1996.2 435.2 2009.8 445.3 2013.2 447.9 C2016.5 447.5 2029.7 446 2033 445.6 C2036.2 448.4 2049.2 459.4 2052.4 462.2 C2055.8 460.6 2069.2 453.9 2072.6 452.3 L2102.5 451 L2102.5 92.5 L1952.6 92.5Z" fill="#f8f2ef"/>
<path d="M1873.3 598.8 C1876.7 598.6 1890.5 598 1893.9 597.8 C1900.5 595.3 1923.4 586 1933.2 583.1 C1943 580.2 1946.1 581.7 1952.8 580.6 C1959.5 579.5 1970 577.4 1973.4 576.7 C1975.3 578 1981.2 580.7 1984.7 584.6 C1988.2 588.5 1991.6 594.8 1994.6 600.3 C1997.6 605.8 2001.5 614.6 2002.9 617.5 C2002.6 623.2 2001.2 646.1 2000.9 651.8 C2003.1 654.9 2008.7 664.6 2014.2 670.5 C2019.7 676.4 2030.5 684.4 2033.8 687.2 C2030.4 689.7 2016.6 699.9 2013.2 702.4 C2010.1 702.1 2001 702 1994.6 700.9 C1988.2 699.8 1981.9 697.6 1974.9 696 C1967.9 694.4 1960.2 691.3 1952.8 691 C1945.4 690.7 1937.2 694.4 1930.7 694 C1924.2 693.6 1919.6 690.1 1913.5 688.6 C1907.4 687.1 1900.6 685.8 1893.9 685.2 C1887.2 684.6 1876.7 685.2 1873.3 685.2 C1869.8 681.1 1856 666.3 1852.2 660.7 C1848.4 655.1 1850 656.1 1850.2 651.8 C1850.4 647.4 1851.7 640.3 1853.2 634.6 C1854.8 628.9 1856.2 623.5 1859.5 617.5 C1862.8 611.5 1871 601.9 1873.3 598.8Z" fill="#f8f2ef"/>
<path d="M1097.6 1009.7 C1104.2 1006.7 1130.8 994.9 1137.5 991.9 C1141.2 991.7 1156.2 990.7 1160 990.5 C1166.4 989.8 1192.1 987.1 1198.5 986.4 C1202.2 988.2 1216.9 995.6 1220.6 997.5 C1223.6 999.5 1235.4 1007.7 1238.4 1009.7 L1238.4 1015 L1097.6 1015Z" fill="#f8f2ef"/>
<path d="M1844.8 984.7 L1849.7 968.5 L1861 946.4 L1871 927 L1881.6 932.6 L1892.9 967 L1896 975 L1850 975Z" fill="#f8f2ef"/>
<path d="M213.5 1012 L1835.8 1012 L1855.4 969.6 L1916 969.6 L1916 883.3 L1935.2 845 L1975.9 845 L1975.9 801 L2054.9 652.8 L2054.9 618.9 L2075.5 587 L2075.5 94.5 L2102.5 94.5 L2102.5 1039.5 L213.5 1039.5Z" fill="#cccccc"/>
</g>
<g fill="none" stroke="#000" stroke-width="4.4" stroke-linejoin="round">
<path d="M832.5 100 C832.6 101.3 832.6 104.9 833 108 C833.4 111.1 834 114.8 835 118.5 C836 122.2 837.9 126.5 839.3 130.4 C840.7 134.3 842.5 138.9 843.5 142.2 C844.5 145.5 845.5 147.4 845.4 150 C845.3 152.6 844 154.8 842.7 157.5 C841.4 160.2 839.5 163.1 837.4 166.5 C835.3 169.9 832.4 173.4 830 177.8 C827.6 182.2 825 188.5 823.2 193 C821.5 197.5 820.5 200.1 819.5 205 C818.5 209.9 817.6 217.2 817 222.4 C816.4 227.6 816.3 231.6 816 236 C815.7 240.4 815.1 244.7 815.2 249 C815.3 253.3 815.9 257 816.5 262 C817.1 267 817.5 274 818.7 279.1 C819.9 284.2 821.7 288.2 823.8 292.7 C825.9 297.2 829 301.1 831.4 306.2 C833.8 311.3 835.8 317 838.2 323.2 C840.6 329.4 843.2 337.3 845.8 343.5 C848.3 349.7 851.1 354.9 853.5 360.5 C855.9 366.1 859.1 374.6 860.2 377.4 C859.8 379.1 858.4 384.2 857.7 387.6 C857 391 855.7 394.3 856 397.7 C856.3 401.1 857.7 404.1 859.4 407.9 C861.1 411.7 863.2 416.9 866.2 420.6 C869.2 424.3 873.1 426.9 877.2 429.9 C881.3 432.9 885.9 436 890.7 438.4 C895.5 440.8 901.4 442.3 906 444 C910.6 445.7 913.3 446 918.6 448.8 C923.9 451.6 932.8 456.6 938 461 C943.2 465.4 945.9 469.9 950 475 C954.1 480.1 958.7 485.6 962.9 491.4 C967.1 497.2 970.9 503.5 975 510 C979.1 516.5 984.8 523.9 987.8 530.2 C990.8 536.5 991.6 542 993 548 C994.4 554 994.2 559 996.2 566.3 C998.2 573.6 1002 583.7 1005 592 C1008 600.3 1012.8 612.2 1014.4 616.2 C1013.3 619.3 1010.1 629 1008 635 C1005.9 641 1004.7 647.5 1001.7 652.2 C998.7 656.9 994.1 659.3 990 663 C985.9 666.7 981.3 670.1 976.8 674.3 C972.3 678.5 966.2 682.8 962.9 688.2 C959.6 693.7 958.6 700.5 957 707 C955.4 713.5 954.1 720.7 953.5 727 C952.9 733.3 953.1 739.5 953.5 745 C953.9 750.5 954.1 754 955.7 760.2 C957.3 766.4 960.4 774.6 963 782 C965.6 789.4 968.9 797.6 971.2 804.6 C973.5 811.6 975.1 817.5 977 824 C978.9 830.5 981.4 840.2 982.3 843.4 C979.1 846.6 970.3 856.5 962.9 862.8 C955.5 869.1 946.3 877 938 881.1 C929.7 885.2 921.3 885.4 913 887.7 C904.7 890 896.8 892.4 888 895 C879.2 897.6 870.1 901 860.4 903.2 C850.7 905.4 840.2 906.4 830 908 C819.8 909.6 809.4 911.7 799.4 912.7 C789.4 913.7 780.2 913.7 770 914 C759.8 914.3 748.3 915 738.4 914.3 C728.5 913.6 719.6 911.9 710.7 909.9 C701.8 907.9 693.3 904.8 685 902 C676.7 899.2 672.2 898 660.8 893.3 C649.4 888.6 627.1 878.6 616.5 873.9 C605.9 869.2 603.5 867.8 597 865 C590.5 862.2 585.5 859.1 577.7 857.2 C569.9 855.3 558.5 854.3 550 853.4 C541.5 852.5 535.7 852.4 526.5 851.7 C517.3 851 505.1 849.8 495 849 C484.9 848.2 475.1 846.7 465.6 846.7 C456.1 846.7 447.1 847.7 437.8 848.9 C428.5 850.1 419.2 852.3 410 854 C400.8 855.7 392.4 857.4 382.4 858.9 C372.4 860.4 360.1 861.7 350 863 C339.9 864.3 331.5 865.5 321.5 866.7 C311.5 867.9 300.2 868.8 290 870 C279.8 871.2 269.5 872.6 260.5 873.9 C251.5 875.2 243.8 876.6 236 878 C228.2 879.4 217.2 881.5 213.5 882.2" stroke-dasharray="15.4 6.7"/>
<path d="M825.5 100 C825.4 101.7 825.4 106.3 824.9 110 C824.4 113.7 823.3 117.7 822.3 121.9 C821.3 126.1 820.4 131.5 819 135.4 C817.6 139.3 816 142.2 813.9 145.6 C811.8 149 809 152.4 806.2 155.8 C803.4 159.2 800.7 162 797 166 C793.3 170 788.5 176 784 180 C779.5 184 774.6 186.5 770 190 C765.4 193.5 760.6 197.6 756.6 201.2 C752.6 204.8 748.9 207.7 746.1 211.8 C743.3 215.9 740.8 223.3 739.7 225.6 C738.1 226.3 733.3 228.6 730 230 C726.7 231.4 721.6 233.4 719.9 234.1 C718.8 232.9 715.3 229.3 713 227 C710.7 224.7 708.1 222.3 705.9 220.1 C703.7 217.8 702.1 215.2 700 213.5 C697.9 211.8 696.5 211.3 693.2 209.9 C690 208.5 684.5 206 680.5 204.9 C676.5 203.8 672.6 203.5 669 203.2 C665.4 202.9 662.4 202.9 658.9 203 C655.4 203.1 651.4 203.2 648 203.5 C644.6 203.8 642.1 204 638.6 204.9 C635.1 205.8 630.6 207.6 627 209 C623.4 210.4 620.3 211.4 617 213.1 C613.7 214.8 610.2 217 607 219 C603.8 221 601.2 223 598 225.2 C594.8 227.4 591.2 230.1 588 232 C584.8 233.9 581.9 235.6 578.9 236.6 C575.9 237.6 573.2 237.7 570 237.9 C566.8 238.1 565.7 237.8 559.9 237.9 C554.1 238 543.5 238.2 535 238.3 C526.5 238.4 515.1 238.4 508.8 238.2 C502.5 238 501.4 237.7 497 237 C492.6 236.3 487.5 234.4 482.7 234.2 C477.9 234 472.8 234.9 468.4 235.8 C464 236.7 459.7 237.6 456.5 239.4 C453.3 241.2 451 243.7 449.4 246.5 C447.8 249.3 447 253 447 256 C447 259 447.6 261.5 449.4 264.3 C451.2 267.1 454.5 270.7 457.7 272.6 C460.9 274.5 464.6 274.9 468.4 275.7 C472.2 276.5 475.1 277.7 480.3 277.4 C485.5 277.1 492.4 274.6 499.3 273.8 C506.2 273 514.5 273.1 522 272.8 C529.5 272.5 537.1 272.7 544.4 272.2 C551.7 271.7 559.5 270.2 565.8 269.8 C572.1 269.4 576.5 268.7 582.4 269.8 C588.3 270.9 596.5 274.2 601.4 276.2 C606.3 278.2 608.4 280 612 282 C615.6 284 617.4 285 622.8 288 C628.2 291 637.9 297 644.2 300 C650.5 303 658 304.9 660.8 305.9 C664 305 673.6 302.3 680 300.5 C686.4 298.7 693 295.9 699.3 295.2 C705.6 294.5 712.5 294.8 717.9 296.4 C723.3 297.9 727.8 301.3 731.5 304.5 C735.2 307.7 738.2 312.2 740 315.6 C741.8 319 742.1 321.1 742.2 324.9 C742.3 328.7 742 333 740.8 338.4 C739.6 343.8 736.7 352.3 734.9 357.1 C733.1 361.9 731.7 363.6 730 367 C728.3 370.4 727.7 372.3 724.7 377.4 C721.7 382.5 714.1 394.3 712 397.7 C712.1 399.4 712.5 404.6 712.8 408 C713.1 411.4 713.6 416.4 713.7 418.1 C711.6 420.9 704.8 430.7 701 435 C697.2 439.3 694.3 442 690.8 444 C687.3 446 684.5 445.1 680.2 447.1 C675.9 449.1 670.1 452.8 665 456 C659.9 459.2 652.3 464.8 649.8 466.5 C649.3 468.9 647.8 476.2 647 481 C646.2 485.8 645.6 492.9 645.3 495.3 C648.8 496.9 658.8 501.9 666 505 C673.2 508.1 681.3 511 688.6 513.6 C695.9 516.2 702.6 518.4 710 520.5 C717.4 522.6 725.9 525.1 732.9 526.4 C739.9 527.7 745.5 527.8 752 528.3 C758.5 528.8 763.8 527.9 771.7 529.1 C779.6 530.4 791.7 533.5 799.4 535.8 C807.1 538.1 811.7 540.5 818 543 C824.3 545.5 833.9 549.5 837.1 550.8 C838.4 553.7 842.7 562.2 845 568 C847.3 573.8 850.5 579.9 851 585.7 C851.5 591.5 849.2 597 848 603 C846.8 609 845.8 613.5 843.7 621.7 C841.6 629.9 835.9 643 835.4 652.2 C834.9 661.4 840 668.8 841 677.1 C842 685.4 841.3 693.7 841.5 702 C841.7 710.3 841.2 720 842.1 727 C843 734 845.3 738.5 847 744 C848.7 749.5 850.9 754.2 852.1 760.2 C853.4 766.2 853.9 773.5 854.5 780 C855.1 786.5 855.7 795.8 855.9 799 C853 803.2 844.9 816.6 838.2 824 C831.6 831.4 822.4 838.9 816 843.4 C809.6 847.9 805.5 848.7 800 851 C794.5 853.3 789.1 855.4 782.8 857.2 C776.5 859 768.9 860.6 762 862 C755.1 863.4 748.8 865.5 741.2 865.6 C733.6 865.7 723.3 864.3 716.3 862.8 C709.3 861.3 704.5 858.8 699 856.5 C693.5 854.2 688.3 852 683 848.9 C677.7 845.8 672.1 841.7 667 838 C661.9 834.3 658.3 830.5 652.5 826.8 C646.7 823 638.9 819.2 632 815.5 C625.1 811.8 619.1 809.2 611 804.6 C602.9 800 591 791.5 583.3 788 C575.6 784.5 570.5 784.6 565 783.5 C559.5 782.4 556.4 781.8 550 781.3 C543.6 780.8 534.2 780.7 526.5 780.2 C518.8 779.7 511.4 778.8 504 778.3 C496.6 777.8 489.2 777.4 482.2 777.4 C475.2 777.4 468.5 777.9 462 778.5 C455.5 779.1 450.2 780 443.4 781.3 C436.6 782.6 428.4 784.8 421 786.5 C413.6 788.2 406.3 790.2 399 791.8 C391.7 793.4 384.4 794.8 377 796 C369.6 797.2 362.2 798.1 354.7 799 C347.2 799.9 339.4 800.7 332 801.3 C324.6 801.9 318.2 802.4 310.4 802.4 C302.6 802.4 293.3 801.4 285 801 C276.7 800.6 268.5 800.2 260.5 800.2 C252.5 800.2 244.8 800.7 237 801 C229.2 801.3 217.4 801.7 213.5 801.8" stroke-dasharray="15.4 6.7"/>
<path d="M213.5 100 C213.7 102.2 214.2 107.6 214.5 113 C214.8 118.4 214.2 127.6 215.2 132.5 C216.1 137.4 218.1 138.8 220.2 142.6 C222.3 146.4 224.9 150.4 227.9 155.3 C230.9 160.2 234.8 166.9 238 171.8 C241.2 176.7 244.8 180.9 246.9 184.5 C249 188.1 250.4 190.7 250.7 193.4 C251 196.2 250.1 198.6 248.8 201 C247.5 203.4 245.8 206.3 243.1 208 C240.4 209.7 236.5 210.6 232.9 211.2 C229.3 211.8 224.7 212.2 221.5 211.8 C218.3 211.4 214.8 209.5 213.5 209" stroke-dasharray="15.4 6.7"/>
<path d="M213.5 268 C217.2 269.8 227.2 274.9 235.6 278.6 C244 282.4 257 286.9 264.1 290.5 C271.2 294.1 274.6 295.9 278.4 300 C282.2 304.1 284.7 310.1 286.7 315.4 C288.7 320.7 290.1 325.7 290.3 332 C290.5 338.3 289.5 347.1 287.9 353.4 C286.3 359.7 284 364.1 280.8 370 C277.6 375.9 274 381.9 268.9 389 C263.8 396.1 256.2 405.3 249.9 412.8 C243.6 420.3 237 428.4 230.9 434.2 C224.8 440 216.4 445.3 213.5 447.5" stroke-dasharray="15.4 6.7"/>
<path d="M213.5 568 C216.7 570.5 229.6 580.4 232.8 582.9 C234.7 586.1 242.1 599.1 243.9 602.3 C246.7 606 257.7 620.8 260.5 624.5 C263.9 629.1 277.6 647.6 281 652.2 C274.8 655.4 250.1 668.4 243.9 671.6 C238.8 673.7 218.6 681.9 213.5 684" stroke-dasharray="15.4 6.7"/>
<path d="M700.8 659.4 C694.3 660.8 687.6 666.8 683 671.6 C678.4 676.4 675.1 679.9 673 688.2 C670.9 696.5 670.5 713.2 670.3 721.5 C670.1 729.8 670.9 731.7 671.9 738.1 C672.9 744.5 673.7 752.6 676 760 C678.3 767.4 681.9 775.9 685.8 782.4 C689.7 788.9 694.5 794.2 699.6 799 C704.7 803.8 709.8 808.2 716.3 811.2 C722.8 814.2 731 816.5 738.4 817.3 C745.8 818 752.5 818.6 760.6 815.7 C768.7 812.9 782.8 802.8 787.2 800.2 C787.9 797.2 789.7 788.6 791.1 782.4 C792.5 776.2 794.8 766.2 795.5 763 C792.5 759.3 782.6 747.6 777.2 740.9 C771.9 734.2 765.7 725.6 763.4 722.6 C762.9 720.1 761.2 713.3 760.6 707.6 C760 701.9 762.3 693.9 759.5 688.2 C756.7 682.5 750.3 677.4 744 673.2 C737.7 669.1 729 665.6 721.8 663.3 C714.6 661 707.3 658 700.8 659.4Z" stroke-dasharray="15.4 6.7"/>
<path d="M1405 98.5 C1402.8 99.2 1395.2 101.4 1392 103 C1388.8 104.6 1390 106.1 1385.8 108.3 C1381.6 110.5 1373 113 1366.7 116 C1360.4 119 1354.1 122.1 1347.7 126.1 C1341.3 130.1 1333.5 135.4 1328.6 140.1 C1323.7 144.8 1320.7 149.6 1318.5 154 C1316.3 158.4 1315.3 162.9 1315.3 166.7 C1315.3 170.5 1316.3 173.8 1318.5 176.9 C1320.7 180 1323.7 183.1 1328.6 185.2 C1333.5 187.3 1340.8 188.5 1347.7 189.6 C1354.6 190.7 1361.2 191.3 1369.9 191.7 C1378.6 192.1 1392.6 191.8 1400 191.8 C1407.4 191.8 1406.3 192.6 1414.3 191.7 C1422.3 190.8 1437.3 188.2 1448.2 186.4 C1459.1 184.6 1467.6 182.5 1479.9 181.1 C1492.2 179.7 1506.4 180.1 1522.3 178 C1538.2 175.9 1559.3 170.3 1575.2 168.4 C1591.1 166.5 1599.9 167.4 1617.5 166.3 C1635.1 165.2 1663.3 164 1681 162.1 C1698.7 160.2 1709.3 158 1723.4 154.7 C1737.5 151.3 1752.6 146.5 1765.7 142 C1778.8 137.5 1792 131.7 1802 127.9 C1812 124.1 1819.2 122.2 1826 119.4 C1832.8 116.6 1839.6 113.5 1843 110.9 C1846.4 108.3 1847.6 105.7 1846.4 104 C1845.2 102.3 1843.4 101.6 1836 100.6 C1828.6 99.6 1807.7 98.4 1802 98" stroke-dasharray="15.4 6.7"/>
<path d="M1530 101.6 C1516.2 101.7 1509.4 101.4 1498.5 101.9 C1487.6 102.4 1476 103.1 1464.7 104.5 C1453.4 105.9 1440.7 108 1430.8 110.4 C1420.9 112.8 1412.2 115.8 1405.4 118.9 C1398.6 122 1393.9 125.6 1390.2 129 C1386.5 132.4 1384 136.1 1383.4 139.2 C1382.8 142.3 1384.5 145.4 1386.8 147.7 C1389 149.9 1392.4 151.1 1396.9 152.7 C1401.4 154.2 1407.4 156.2 1413.9 157 C1420.4 157.8 1427.4 158.5 1435.9 157.8 C1444.4 157.1 1452.9 154.8 1464.7 152.7 C1476.5 150.6 1495.7 147.6 1507 145.1 C1518.3 142.6 1523.9 140.2 1532.4 137.5 C1540.9 134.8 1549.9 131.5 1557.8 129 C1565.7 126.5 1573.3 123.8 1579.8 122.3 C1586.3 120.8 1590.6 120.5 1596.8 120.2 C1603 119.9 1608.1 120.1 1617.1 120.6 C1626.1 121.1 1641.1 122.5 1651 123.1 C1660.9 123.6 1667.9 124 1676.4 123.9 C1684.9 123.8 1693.3 123.4 1701.8 122.6 C1710.3 121.8 1718.7 120.4 1727.2 118.9 C1735.7 117.4 1745.8 115.5 1752.6 113.8 C1759.4 112.1 1766.6 110.5 1767.8 108.7 C1769 106.9 1763.1 104.3 1760 103 C1756.9 101.7 1753.3 101.5 1749.2 101.1 C1745.1 100.7 1746.3 100.8 1735.6 100.6 C1724.9 100.4 1701.7 100 1684.8 99.9 C1667.9 99.8 1651.2 100 1634 100.2 C1616.8 100.4 1598.8 100.9 1581.5 101.1 C1564.2 101.3 1543.8 101.5 1530 101.6Z" stroke-dasharray="15.4 6.7"/>
<path d="M240 98 C239.3 99.7 236.4 104.9 236.1 108.3 C235.8 111.7 236.6 114.9 238 118.5 C239.4 122.1 241.4 126.1 244.4 129.9 C247.4 133.7 251.4 137.3 255.8 141.3 C260.2 145.3 265.9 150 271 154 C276.1 158 280.8 161.7 286.3 165.5 C291.8 169.3 298.6 173.9 304.1 176.9 C309.6 179.9 313.4 181.2 319.3 183.3 C325.2 185.4 332.2 188 339.6 189.6 C347 191.2 354.5 192.1 363.8 192.8 C373.1 193.5 383.9 194.1 395.5 194 C407.1 193.9 420.9 193 433.6 192.2 C446.3 191.4 459.8 189.9 471.7 189 C483.6 188.1 494.5 187.6 505 187 C515.5 186.4 525.2 185.9 534.5 185.2 C543.8 184.5 551.5 183.6 561 183 C570.5 182.4 582.3 182.4 591.6 181.4 C600.9 180.4 608.5 178.4 617 176.9 C625.5 175.4 633.9 173.7 642.4 172.5 C650.9 171.3 657.2 170.5 667.8 169.9 C678.4 169.3 694.2 169.2 705.9 168.7 C717.5 168.2 729.2 168.1 737.7 166.7 C746.2 165.3 751.6 162.1 756.7 160.4 C761.8 158.7 763.4 158.9 768.1 156.6 C772.8 154.3 779.4 150.6 785 146.5 C790.6 142.4 797.6 136.1 802 132 C806.4 127.9 808.8 125.4 811.3 121.9 C813.8 118.4 815.8 114.2 817.2 110.9 C818.6 107.6 819.1 103.5 819.5 102" stroke-dasharray="15.4 6.7"/>
<path d="M262 98 C261.2 99.7 257.5 105.3 257 108.3 C256.5 111.3 257.3 113 259 116 C260.7 119 263.5 122.3 267.2 126.1 C270.9 129.9 275.5 134.6 281.2 138.8 C286.9 143 295.1 148 301.5 151.5 C307.9 155 312.1 157.1 319.3 159.8 C326.5 162.6 336.2 165.8 344.7 168 C353.2 170.2 361.6 171.8 370.1 173.1 C378.6 174.4 384.9 175.2 395.5 175.6 C406.1 176 420.9 176 433.6 175.6 C446.3 175.2 459.8 174 471.7 173.4 C483.6 172.8 495.6 172.3 505 171.8 C514.4 171.3 517.9 171.4 528.1 170.6 C538.3 169.8 553.5 168.3 566.2 166.8 C578.9 165.3 592.6 163.2 604.3 161.7 C615.9 160.2 626.8 158.8 636.1 157.9 C645.4 157 651.7 156.7 660.2 156 C668.7 155.3 677.2 154.7 686.9 154 C696.6 153.3 709.7 152.9 718.6 152.1 C727.5 151.3 732.7 150.8 740.2 149 C747.8 147.2 757.1 144.1 763.9 141.4 C770.7 138.7 775.1 136 780.8 132.9 C786.4 129.8 792.8 126.1 797.8 122.7 C802.8 119.3 807.4 116 810.5 112.6 C813.6 109.1 815.5 103.8 816.5 102" stroke-dasharray="15.4 6.7"/>
<path d="M283 98 C282.2 99.5 278.3 104.2 278 107 C277.7 109.8 279 111.7 281.2 114.7 C283.4 117.7 287.4 121.5 291.4 124.8 C295.4 128.1 300.4 131.3 305 134.5 C309.6 137.7 314.8 141.5 319.3 143.9 C323.8 146.3 325.6 146.8 332 149 C338.4 151.2 348.9 155.1 357.4 157.2 C365.9 159.3 374.3 160.5 382.8 161.7 C391.3 162.9 399.7 163.7 408.2 164.2 C416.7 164.7 423 164.8 433.6 164.6 C444.2 164.4 459.8 163.4 471.7 162.9 C483.6 162.4 493.5 162.3 505 161.7 C516.5 161.1 526.4 160.4 540.8 159.1 C555.2 157.8 574.7 155.9 591.6 154 C608.5 152.1 625.5 149.5 642.4 147.7 C659.3 145.9 678.4 144.6 693.2 143.3 C708 142 720.7 141.5 731.3 140.1 C741.9 138.7 749.9 137.5 756.7 135 C763.6 132.5 767 128.3 772.4 125.3 C777.8 122.3 783.7 119.8 789.3 116.8 C794.9 113.8 802.4 110.1 806.2 107.5 C810 104.9 811 102.1 812 101" stroke-dasharray="15.4 6.7"/>
<path d="M305 98 C304.3 99.3 301.2 103.5 301 106 C300.8 108.5 302.3 110.8 304 113 C305.7 115.2 308.4 117.5 311 119.5 C313.6 121.5 315.8 122.8 319.3 124.8 C322.8 126.8 326.7 128.9 332 131.2 C337.3 133.5 344.8 136.5 351.1 138.8 C357.5 141.1 362.7 143.3 370.1 145.2 C377.5 147.1 387 148.9 395.5 150.2 C404 151.5 410.3 152.3 420.9 152.8 C431.5 153.3 445 153.5 459 153.4 C473 153.3 491.4 152.6 505 152.1 C518.6 151.6 526.4 151.3 540.8 150.2 C555.2 149 574.7 146.9 591.6 145.2 C608.5 143.5 625.5 141.7 642.4 140.1 C659.3 138.5 678.4 136.9 693.2 135.6 C708 134.3 721.8 133.7 731.3 132.5 C740.8 131.3 744.3 130.7 750.4 128.6 C756.5 126.5 762.1 122.8 768 120 C773.9 117.2 780.5 114.2 786 111.5 C791.5 108.8 797.7 105.4 801 103.5 C804.3 101.6 805.2 100.6 806 100" stroke-dasharray="15.4 6.7"/>
<path d="M330 98 C329.2 99.7 325.1 105.7 325 108.3 C324.9 110.9 326.2 111.1 329.5 113.4 C332.8 115.7 337.9 119.1 344.7 122.3 C351.5 125.5 361.6 129.8 370.1 132.5 C378.6 135.2 387 137.2 395.5 138.8 C404 140.4 410.3 141.2 420.9 142 C431.5 142.8 445 143.2 459 143.3 C473 143.4 491.4 142.9 505 142.6 C518.6 142.3 526.4 142.2 540.8 141.3 C555.2 140.5 574.7 138.9 591.6 137.5 C608.5 136.1 625.5 134.5 642.4 133.1 C659.3 131.7 678.4 130.5 693.2 129.3 C708 128.1 721.8 127.2 731.3 126.1 C740.8 125 744.3 124.7 750.4 122.9 C756.5 121.1 762.4 118 768 115.5 C773.6 113 779 110.6 784 108 C789 105.4 795.7 101.3 798 100" stroke-dasharray="15.4 6.7"/>
<path d="M349 98 C349.4 99.7 348.6 105.3 351.1 108.3 C353.6 111.3 358.5 113.4 363.8 115.9 C369.1 118.5 375.4 121.3 382.8 123.6 C390.2 125.9 399.7 128.3 408.2 129.9 C416.7 131.5 423 132.3 433.6 133.1 C444.2 133.8 459.8 134.2 471.7 134.4 C483.6 134.6 493.5 134.2 505 134 C516.5 133.8 526.4 134.1 540.8 133.5 C555.2 132.9 574.7 131.7 591.6 130.6 C608.5 129.5 625.5 127.9 642.4 126.7 C659.3 125.5 678.4 124.6 693.2 123.6 C708 122.5 721.8 121.4 731.3 120.4 C740.8 119.4 744.3 119.3 750.4 117.8 C756.5 116.3 762.7 113.6 768 111.5 C773.3 109.4 778 107.1 782 105 C786 102.9 790.3 100 792 99" stroke-dasharray="15.4 6.7"/>
<path d="M372 98 C372.8 99.7 372.6 105.3 376.5 108.3 C380.4 111.3 388.1 113.7 395.5 116 C402.9 118.3 412.4 120.7 420.9 122.3 C429.4 123.9 435.7 124.8 446.3 125.5 C456.9 126.2 474.6 126.6 484.4 126.7 C494.2 126.8 495.6 126.2 505 126.1 C514.4 126 526.4 126.4 540.8 126.1 C555.2 125.8 574.7 125 591.6 124.2 C608.5 123.4 625.5 122 642.4 121 C659.3 120 678.4 119.4 693.2 118.5 C708 117.6 720.7 116.8 731.3 115.7 C741.9 114.6 749.9 113.7 756.7 112.1 C763.5 110.5 767.5 108.2 772 106 C776.5 103.8 782 100.2 784 99" stroke-dasharray="15.4 6.7"/>
<path d="M397 98 C397.8 99.5 397.9 104.4 401.9 107 C405.9 109.6 413.5 111.6 420.9 113.4 C428.3 115.2 437.8 116.7 446.3 117.8 C454.8 118.9 461.9 119.4 471.7 119.8 C481.5 120.2 493.5 120.3 505 120.4 C516.5 120.5 526.4 120.7 540.8 120.4 C555.2 120.2 574.7 119.5 591.6 118.9 C608.5 118.3 625.5 117.4 642.4 116.6 C659.3 115.8 678.4 114.8 693.2 114 C708 113.2 720.8 112.9 731.3 111.9 C741.8 110.9 749.5 109.5 756 108 C762.5 106.5 766.3 104.7 770 103 C773.7 101.3 776.7 98.8 778 98" stroke-dasharray="15.4 6.7"/>
<path d="M425 98 C425.8 99.5 426.2 104.8 429.8 107 C433.4 109.2 439.3 110.3 446.3 111.5 C453.3 112.7 461.9 113.4 471.7 114 C481.5 114.6 493.5 115 505 115.3 C516.5 115.6 526.4 115.8 540.8 115.7 C555.2 115.6 574.7 115.2 591.6 114.7 C608.5 114.2 625.5 113.4 642.4 112.8 C659.3 112.2 676.3 111.7 693.2 110.9 C710.1 110.2 732.5 109.6 744 108.3 C755.5 107 757.5 104.7 762 103 C766.5 101.3 769.5 98.8 771 98" stroke-dasharray="15.4 6.7"/>
<path d="M448 98 C449.2 99.3 451.1 104.1 455 106 C458.9 107.9 463.4 108.6 471.7 109.5 C480 110.4 493.5 110.9 505 111.3 C516.5 111.7 526.4 111.7 540.8 111.7 C555.2 111.7 574.7 111.8 591.6 111.5 C608.5 111.2 625.5 110.3 642.4 109.8 C659.3 109.3 676.9 109 693.2 108.3 C709.5 107.6 729.4 106.5 740 105.5 C750.6 104.5 752.7 103.2 756.7 102 C760.7 100.8 762.8 98.7 764 98" stroke-dasharray="15.4 6.7"/>
<path d="M470 98 C471.3 99.1 472.2 102.9 478 104.5 C483.8 106.1 494.5 107.1 505 107.8 C515.5 108.5 526.4 108.3 540.8 108.4 C555.2 108.5 574.7 108.6 591.6 108.4 C608.5 108.2 625.5 107.5 642.4 107 C659.3 106.5 677.8 106.4 693.2 105.7 C708.6 105 725.2 104.3 735 103 C744.8 101.7 749.2 98.8 752 98" stroke-dasharray="15.4 6.7"/>
<path d="M495 98 C496.7 99.1 497.4 103.2 505 104.5 C512.6 105.8 526.4 105.4 540.8 105.6 C555.2 105.8 574.7 105.8 591.6 105.6 C608.5 105.4 625.5 104.9 642.4 104.5 C659.3 104.1 678.9 103.8 693.2 103.2 C707.5 102.6 719.9 101.9 728 101 C736.1 100.1 739.7 98.5 742 98" stroke-dasharray="15.4 6.7"/>
<path d="M525 98 C527.6 98.8 529.7 102 540.8 102.8 C551.9 103.6 574.7 103.1 591.6 103 C608.5 102.9 625.5 102.5 642.4 102.2 C659.3 101.9 680.3 101.5 693.2 101 C706.1 100.5 713.9 100 720 99.5 C726.1 99 728.3 98.2 730 98" stroke-dasharray="15.4 6.7"/>
<path d="M560 98 C563.3 98.4 570 100.2 580 100.6 C590 101 606.7 100.7 620 100.6 C633.3 100.5 648.3 100.3 660 100 C671.7 99.7 683.3 99.3 690 99 C696.7 98.7 698.3 98.2 700 98" stroke-dasharray="15.4 6.7"/>
<path d="M1953 95.6 C1957.5 95.7 1972.7 96 1980 96.3 C1987.3 96.6 1992.5 96.8 1996.9 97.5 C2001.3 98.2 2004.7 100.2 2006.3 100.7 C2006 101.1 2007 102.3 2004.7 103 C2002.4 103.7 1994.9 103.7 1992.2 104.6 C1989.5 105.5 1988.3 107.2 1988.3 108.5 C1988.3 109.8 1989.7 111.2 1992.2 112.4 C1994.7 113.6 2001 114.7 2003.2 115.5 C2005.4 116.3 2005.1 116.8 2005.5 117.1 C2004.8 117.6 2004.6 118.4 2001.6 120.2 C1998.6 122 1991.9 126.1 1987.5 128.1 C1983.1 130.1 1980.2 131 1975 132 C1969.8 133 1962.7 133 1956.2 133.9 C1949.7 134.8 1943.1 136.1 1935.8 137.5 C1928.5 138.9 1919.3 140.4 1912.3 142.2 C1905.2 144 1899.2 146.2 1893.5 148.4 C1887.8 150.6 1883 152.9 1877.8 155.5 C1872.6 158.1 1866.8 161.5 1862.2 164.1 C1857.6 166.7 1854.9 168.2 1850 171 C1845.1 173.8 1839.1 176.1 1832.8 180.7 C1826.5 185.3 1817.2 192.8 1812.4 198.7 C1807.6 204.6 1806 210.1 1803.8 216.4 C1801.6 222.8 1799.8 230 1799.4 236.8 C1799 243.6 1799.3 249.9 1801.5 257.3 C1803.7 264.7 1810 274.9 1812.4 281.1 C1814.8 287.3 1815.1 288.4 1815.8 294.7 C1816.5 300.9 1815.6 309.5 1816.4 318.6 C1817.2 327.7 1819.2 339.6 1820.9 349.2 C1822.6 358.8 1824.4 369.3 1826.7 376.4 C1829 383.5 1830.2 384.3 1834.5 391.8 C1838.8 399.3 1849.6 416.6 1852.6 421.6 C1856.1 423.8 1870.1 432.8 1873.6 435 C1878.1 432.3 1896.4 421.7 1900.9 419 C1902.9 417.6 1910.8 411.9 1912.8 410.5 C1916.2 409.2 1929.8 404.2 1933.2 403 C1936.4 403.1 1949.4 403.6 1952.6 403.7 C1957.6 406.4 1977.6 417 1982.6 419.7 C1984.3 421.9 1991.1 430.5 1992.8 432.6 C1996.2 435.2 2009.8 445.3 2013.2 447.9 C2016.5 447.5 2029.7 446 2033 445.6 C2036.2 448.4 2049.2 459.4 2052.4 462.2 C2055.8 460.6 2069.2 453.9 2072.6 452.3"/>
<path d="M1873.3 598.8 C1876.7 598.6 1890.5 598 1893.9 597.8 C1900.5 595.3 1923.4 586 1933.2 583.1 C1943 580.2 1946.1 581.7 1952.8 580.6 C1959.5 579.5 1970 577.4 1973.4 576.7 C1975.3 578 1981.2 580.7 1984.7 584.6 C1988.2 588.5 1991.6 594.8 1994.6 600.3 C1997.6 605.8 2001.5 614.6 2002.9 617.5 C2002.6 623.2 2001.2 646.1 2000.9 651.8 C2003.1 654.9 2008.7 664.6 2014.2 670.5 C2019.7 676.4 2030.5 684.4 2033.8 687.2 C2030.4 689.7 2016.6 699.9 2013.2 702.4 C2010.1 702.1 2001 702 1994.6 700.9 C1988.2 699.8 1981.9 697.6 1974.9 696 C1967.9 694.4 1960.2 691.3 1952.8 691 C1945.4 690.7 1937.2 694.4 1930.7 694 C1924.2 693.6 1919.6 690.1 1913.5 688.6 C1907.4 687.1 1900.6 685.8 1893.9 685.2 C1887.2 684.6 1876.7 685.2 1873.3 685.2 C1869.8 681.1 1856 666.3 1852.2 660.7 C1848.4 655.1 1850 656.1 1850.2 651.8 C1850.4 647.4 1851.7 640.3 1853.2 634.6 C1854.8 628.9 1856.2 623.5 1859.5 617.5 C1862.8 611.5 1871 601.9 1873.3 598.8Z"/>
<path d="M1097.6 1009.7 C1104.2 1006.7 1130.8 994.9 1137.5 991.9 C1141.2 991.7 1156.2 990.7 1160 990.5 C1166.4 989.8 1192.1 987.1 1198.5 986.4 C1202.2 988.2 1216.9 995.6 1220.6 997.5 C1223.6 999.5 1235.4 1007.7 1238.4 1009.7"/>
<path d="M1844.8 984.7 C1845.6 982 1848.9 971.2 1849.7 968.5 C1851.6 964.8 1859.1 950.1 1861 946.4"/>
<path d="M1881.6 932.6 L1892.9 967"/>
<path d="M600.2 1009.6 L640.6 1009.6"/>
<path d="M833.5 100 C833.8 101.2 834.4 105.1 835.5 107.3 C836.6 109.5 837.9 111.2 840.1 113.4 C842.3 115.6 845.4 117.5 848.6 120.2 C851.8 123 856 127.1 859.2 129.9 C862.4 132.7 864.8 134.7 868 137 C871.2 139.3 875 142.1 878.3 143.9 C881.6 145.7 884.6 146.7 888 148 C891.4 149.3 893.5 150.5 898.6 151.5 C903.8 152.5 912.3 153.5 918.9 154 C925.5 154.5 931.6 153.8 938 154.7 C944.4 155.5 949.6 156.4 957 159.1 C964.4 161.8 973.9 166.4 982.4 170.6 C990.9 174.8 999.3 179.8 1007.8 184.5 C1016.3 189.2 1026.4 194.5 1033.2 198.5 C1040 202.5 1044.3 205.3 1048.5 208.7 C1052.7 212.1 1054.8 214.6 1058.6 218.8 C1062.4 223 1068.1 229.4 1071.3 234.1 C1074.5 238.8 1076.6 244.7 1077.7 246.8 C1078.8 245.5 1080.8 242.4 1084 239.2 C1087.2 236 1094.6 229.6 1096.7 227.7 C1097.8 225.8 1100.8 219.9 1103.1 216.3 C1105.3 212.7 1106.9 209.3 1110.2 206.1 C1113.5 202.9 1118.2 199.9 1122.9 197.2 C1127.6 194.4 1131.3 192.1 1138.1 189.6 C1144.9 187.1 1154 184.5 1163.5 182 C1173 179.5 1183 176.8 1195.3 174.4 C1207.6 172 1230.2 168.6 1237.2 167.4 C1240.8 165.6 1249.9 161.6 1258.8 156.6 C1267.7 151.6 1279.9 143.2 1290.5 137.5 C1301.1 131.8 1311.7 127 1322.3 122.3 C1332.9 117.6 1344.5 113.2 1354 109.6 C1363.5 106 1373.1 102.8 1379.4 100.7 C1385.8 98.6 1390 97.6 1392.1 97"/>
<path d="M835 100 C835.4 101.4 836 105.9 837.6 108.3 C839.2 110.7 840.7 112.1 844.4 114.3 C848.1 116.5 853.5 119.2 860 121.5 C866.5 123.8 875.6 126.2 883.3 128 C891 129.8 898.2 131.3 906.2 132.5 C914.2 133.7 923.1 134.2 931.6 135 C940.1 135.8 948.5 136.2 957 137.5 C965.5 138.8 973.9 140.9 982.4 142.6 C990.9 144.3 999.3 146.1 1007.8 147.7 C1016.3 149.3 1024.7 150.7 1033.2 152.1 C1041.7 153.5 1051.2 155 1058.6 156 C1066 157 1071.3 157.6 1077.7 157.9 C1084.1 158.2 1088.8 158.4 1096.7 157.9 C1104.7 157.4 1114.3 156 1125.4 154.7 C1136.5 153.4 1150.8 151.8 1163.5 150.2 C1176.2 148.6 1189.9 147.1 1201.6 145.2 C1213.2 143.3 1223.9 141.4 1233.4 138.8 C1242.9 136.2 1249.3 133.5 1258.8 129.9 C1268.3 126.3 1279.9 121 1290.5 117.2 C1301.1 113.4 1313.7 109.6 1322.3 107 C1330.9 104.4 1337.9 103 1342 101.5 C1346.1 100 1346.2 98.6 1347 98"/>
<path d="M836.5 100 C837.1 101.2 838.1 105 840 107 C841.9 109 843.7 110.1 848 112 C852.3 113.9 859.5 116.6 866 118.5 C872.5 120.4 878.4 122.3 887.2 123.6 C896 124.9 907.3 125.3 918.9 126.1 C930.5 126.9 944.3 127.3 957 128.6 C969.7 129.9 982.4 132.1 995.1 133.7 C1007.8 135.3 1020.5 136.9 1033.2 138.2 C1045.9 139.5 1060.7 140.8 1071.3 141.3 C1081.9 141.8 1089.1 141.6 1096.7 141.3 C1104.3 141 1106.5 140.1 1117 139.4 C1127.5 138.7 1145.6 138.1 1159.7 136.9 C1173.8 135.8 1188.3 134.5 1201.6 132.5 C1214.9 130.5 1227 128 1239.7 124.8 C1252.4 121.6 1266.2 116.8 1277.8 113.4 C1289.4 110 1302.8 107.1 1309.6 104.5 C1316.4 101.9 1317 99.1 1318.5 98"/>
<path d="M838 100 C838.7 101 839.7 104.2 842 106 C844.3 107.8 847.3 108.8 852 110.5 C856.7 112.2 863.7 114.3 870 116 C876.3 117.7 879.4 119.4 889.7 120.4 C900 121.5 916.2 121.5 931.6 122.3 C947 123.1 965.5 124.2 982.4 125.5 C999.3 126.8 1018.4 128.7 1033.2 129.9 C1048 131.1 1060.7 132.1 1071.3 132.5 C1081.9 132.9 1086.9 132.9 1096.7 132.5 C1106.5 132.1 1119.9 130.8 1130 129.9 C1140.1 129.1 1145.3 128.6 1157.2 127.4 C1169.1 126.2 1187.8 124.8 1201.6 122.9 C1215.3 121 1228 118.3 1239.7 115.9 C1251.4 113.5 1264.1 110.2 1271.5 108.3 C1278.9 106.4 1281 105.2 1284 104.3 C1287 103.3 1288.7 102.9 1289.6 102.6 C1286 102 1271.6 99.8 1268 99.2"/>
<path d="M839.5 100 C840.4 100.9 841.9 103.8 845 105.5 C848.1 107.2 852.2 108.5 858 110 C863.8 111.5 872.2 113.2 880 114.5 C887.8 115.8 896.4 116.7 905 117.5 C913.6 118.3 918.7 118.6 931.6 119.1 C944.5 119.6 965.5 119.7 982.4 120.4 C999.3 121.2 1018.4 122.8 1033.2 123.6 C1048 124.4 1058.6 125.3 1071.3 125.5 C1084 125.7 1099.6 125.2 1109.4 124.8 C1119.2 124.4 1123.1 123.4 1130 122.9 C1136.9 122.4 1138.9 122.8 1150.8 121.7 C1162.7 120.7 1186.8 118.6 1201.6 116.6 C1216.4 114.6 1231 111.4 1239.7 109.6 C1248.4 107.8 1250.5 106.5 1254 105.5 C1257.5 104.5 1259.6 103.8 1260.7 103.4 C1256.9 102.8 1241.8 100.2 1238 99.6"/>
<path d="M841 100 C842.2 100.8 844.2 103.5 848 105 C851.8 106.5 857 107.8 864 109 C871 110.2 878.7 111.5 890 112.5 C901.3 113.5 916.2 114.2 931.6 115 C947 115.8 965.5 116.4 982.4 117.2 C999.3 118 1016.3 119 1033.2 119.6 C1050.1 120.2 1067.9 120.9 1084 120.8 C1100.1 120.7 1118.9 119.5 1130 118.8 C1141.1 118.1 1138.9 118 1150.8 116.6 C1162.7 115.2 1190.2 112 1201.6 110.2 C1213 108.4 1214.8 106.9 1219 105.8 C1223.2 104.7 1225.3 104.1 1226.6 103.8 C1222.8 103.1 1207.8 100.5 1204 99.8"/>
<path d="M842.5 100 C843.9 100.8 846.4 103.2 851 104.5 C855.6 105.8 861.8 107 870 108 C878.2 109 888.3 109.8 900 110.5 C911.7 111.2 925 111.5 940 112 C955 112.5 973.3 113 990 113.6 C1006.7 114.2 1024.3 115 1040 115.4 C1055.7 115.8 1069.8 116.4 1084 116.2 C1098.2 116 1114 115.1 1125 114.4 C1136 113.8 1141.5 113.3 1150 112.3 C1158.5 111.3 1170 109.7 1176.2 108.6 C1182.4 107.5 1184.4 106.4 1187 105.6 C1189.6 104.8 1191.2 104.3 1192 104 C1188.3 103.3 1173.7 100.7 1170 100"/>
<path d="M844 100 C845.8 100.7 849 102.9 855 104 C861 105.1 869.2 106 880 106.8 C890.8 107.6 905 108.1 920 108.6 C935 109.1 951.7 109.3 970 109.8 C988.3 110.3 1013.3 111.1 1030 111.4 C1046.7 111.7 1058.3 111.9 1070 111.6 C1081.7 111.3 1090.8 110.3 1100 109.6 C1109.2 108.9 1117.5 108 1125 107.3 C1132.5 106.6 1140.2 105.7 1145 105.2 C1149.8 104.7 1152.1 104.4 1153.5 104.2 C1149.9 103.6 1135.6 101 1132 100.4"/>
<path d="M846 100 C848.3 100.6 851.8 102.5 860 103.4 C868.2 104.3 880 104.9 895 105.4 C910 105.9 932.5 106.1 950 106.5 C967.5 106.9 985 107.3 1000 107.6 C1015 107.8 1026.7 108 1040 108 C1053.3 108 1069.2 107.7 1080 107.3 C1090.8 106.9 1098.8 106 1105 105.5 C1111.2 105 1115 104.4 1117 104.2 C1113.5 103.6 1099.5 101.2 1096 100.6"/>
<path d="M848 100 C851.3 100.5 857.7 102.1 868 102.8 C878.3 103.5 894.7 103.6 910 104 C925.3 104.4 945 104.7 960 105 C975 105.3 986.7 105.9 1000 106 C1013.3 106.1 1030 106 1040 105.8 C1050 105.6 1055.2 105.1 1060 104.8 C1064.8 104.5 1067.5 104.3 1069 104.2 C1065.5 103.6 1051.5 101.2 1048 100.6"/>
<path d="M852 99.5 C856.7 99.9 868.7 101.1 880 101.8 C891.3 102.5 906.7 103 920 103.4 C933.3 103.8 948.3 103.9 960 104 C971.7 104.1 983.3 104 990 103.8 C996.7 103.6 998.3 103 1000 102.8 C997.5 102.6 987.5 101.6 985 101.4"/>
<path d="M858 99 C861.7 99.3 871.3 100.2 880 100.8 C888.7 101.4 902.5 102.2 910 102.4 C917.5 102.6 922.5 102.1 925 102 C922.5 101.8 912.5 101.2 910 101"/>
<path d="M2070 419.8 L2075 420.8" stroke-width="2.4"/>
</g>
<path d="M213.5 94.5 L213.5 100.5 L300 100.5 L330 101.5 L400 103 L448 104 L448 97 L693 97 L693 100.5 L740 100.8 L770 102 L800 103.5 L822 105.5 L836 106 L846 104.5 L858 110 L872 114 L890 117.2 L940 117.6 L1000 117.6 L1050 118 L1092 118 L1108 116 L1118 112 L1105 107.6 L1069 106.8 L1069 102.4 L1150 101.9 L1300 100.7 L1330 99.4 L1360 97.8 L1392 97 L1392 94.5Z" fill="#000"/>
<path d="M1400 98.3 L1752 98.3" fill="none" stroke="#000" stroke-width="4.6" stroke-dasharray="22 7"/>
<path d="M1798 96.6 L1830 97.4" fill="none" stroke="#000" stroke-width="4.2"/>
<path d="M1845 95.2 L1953 95.4" fill="none" stroke="#000" stroke-width="3"/>
</g>
<rect x="213.5" y="94.5" width="1889" height="945" fill="none" stroke="#000" stroke-width="3.33"/>
<g clip-path="url(#ax)">
<g transform="translate(306 112.3) rotate(-90)">
<rect x="-32.3" y="-11.5" width="64.7" height="23" fill="#fff"/>
<text x="-35.4" y="9" font-size="26.2" textLength="63.9" lengthAdjust="spacingAndGlyphs">-12.0</text>
</g>
<g transform="translate(561.1 184.5) rotate(-9.5)">
<rect x="-24.4" y="-11.5" width="48.8" height="23" fill="#fff"/>
<text x="-24" y="9" font-size="26.2" textLength="48" lengthAdjust="spacingAndGlyphs">-6.0</text>
</g>
<g transform="translate(660.2 157.2) rotate(-9.5)">
<rect x="-24.4" y="-11.5" width="48.8" height="23" fill="#fff"/>
<text x="-24" y="9" font-size="26.2" textLength="48" lengthAdjust="spacingAndGlyphs">-8.0</text>
</g>
<g transform="translate(775.8 108) rotate(-56)">
<rect x="-32.3" y="-11.5" width="64.7" height="23" fill="#fff"/>
<text x="-31.9" y="9" font-size="26.2" textLength="63.9" lengthAdjust="spacingAndGlyphs">-22.0</text>
</g>
<g transform="translate(779.8 180) rotate(-59.5)">
<rect x="-24.4" y="-11.5" width="48.8" height="23" fill="#fff"/>
<text x="-24" y="9" font-size="26.2" textLength="48" lengthAdjust="spacingAndGlyphs">-4.0</text>
</g>
<g transform="translate(867.3 112.4) rotate(26)">
<rect x="-19.9" y="-11.5" width="39.8" height="23" fill="#fff"/>
<text x="-19.5" y="9" font-size="26.2" textLength="39" lengthAdjust="spacingAndGlyphs">6.0</text>
</g>
<g transform="translate(1137.6 138.5) rotate(-5.6)">
<rect x="-19.9" y="-11.5" width="39.8" height="23" fill="#fff"/>
<text x="-19.5" y="9" font-size="26.2" textLength="39" lengthAdjust="spacingAndGlyphs">4.0</text>
</g>
<g transform="translate(1194.6 95.5) rotate(0)">
<rect x="-19.9" y="-11.5" width="39.8" height="23" fill="#fff"/>
<text x="-19.5" y="9" font-size="26.2" textLength="39" lengthAdjust="spacingAndGlyphs">2.0</text>
</g>
<g transform="translate(1555.3 101.4) rotate(0)">
<rect x="-24.4" y="-11.5" width="48.8" height="23" fill="#fff"/>
<text x="-24" y="9" font-size="26.2" textLength="48" lengthAdjust="spacingAndGlyphs">-4.0</text>
</g>
<g transform="translate(1774 96.8) rotate(3.5)">
<rect x="-24.4" y="-11.5" width="48.8" height="23" fill="#fff"/>
<text x="-24" y="9" font-size="26.2" textLength="48" lengthAdjust="spacingAndGlyphs">-2.0</text>
</g>
<g transform="translate(1933 93.6) rotate(0)">
<rect x="-19.9" y="-11.5" width="39.8" height="23" fill="#fff"/>
<text x="-19.5" y="9" font-size="26.2" textLength="39" lengthAdjust="spacingAndGlyphs">0.0</text>
</g>
<g transform="translate(1952.2 694.2) rotate(8.9)">
<rect x="-19.9" y="-11.5" width="39.8" height="23" fill="#fff"/>
<text x="-19.5" y="9" font-size="26.2" textLength="39" lengthAdjust="spacingAndGlyphs">0.0</text>
</g>
<g transform="translate(1870.7 924.4) rotate(-30.3)">
<rect x="-19.9" y="-11.5" width="39.8" height="23" fill="#fff"/>
<text x="-19.5" y="9" font-size="26.2" textLength="39" lengthAdjust="spacingAndGlyphs">0.0</text>
</g>
<g transform="translate(1176.8 984.7) rotate(-2)">
<rect x="-19.9" y="-11.5" width="39.8" height="23" fill="#fff"/>
<text x="-19.5" y="9" font-size="26.2" textLength="39" lengthAdjust="spacingAndGlyphs">0.0</text>
</g>
<g transform="translate(672 763.4) rotate(78)">
<rect x="-24.4" y="-11.5" width="48.8" height="23" fill="#fff"/>
<text x="-24" y="9" font-size="26.2" textLength="48" lengthAdjust="spacingAndGlyphs">-6.0</text>
</g>
<rect x="448.9" y="90" width="60.1" height="21.5" fill="#fff"/>
<rect x="509" y="90" width="64" height="24.4" fill="#fff"/>
<rect x="573" y="90" width="55" height="20.3" fill="#fff"/>
<rect x="628" y="90" width="64.5" height="19.1" fill="#fff"/>
<text x="450.2" y="107.9" font-size="26.2" textLength="47" lengthAdjust="spacingAndGlyphs">-18-</text>
<text x="502.5" y="101.4" font-size="26.2" textLength="37" lengthAdjust="spacingAndGlyphs">0.0</text>
<text x="536.5" y="105.6" font-size="26.2" textLength="15.5" lengthAdjust="spacingAndGlyphs">0</text>
<text x="555.5" y="107.9" font-size="26.2" textLength="15.5" lengthAdjust="spacingAndGlyphs">0</text>
<text x="568.8" y="105" font-size="26.2" textLength="54" lengthAdjust="spacingAndGlyphs">-10.0</text>
<text x="628" y="104.4" font-size="26.2" textLength="38" lengthAdjust="spacingAndGlyphs">.00</text>
<text x="668" y="104.4" font-size="26.2" textLength="23.5" lengthAdjust="spacingAndGlyphs">.0</text>
<rect x="939" y="90" width="11.9" height="15.6" fill="#fff"/>
<rect x="950.9" y="90" width="55.1" height="21.7" fill="#fff"/>
<rect x="1006" y="90" width="40" height="20.4" fill="#fff"/>
<rect x="1046" y="90" width="20" height="19.3" fill="#fff"/>
<text x="936.5" y="100.2" font-size="26.2" textLength="15.5" lengthAdjust="spacingAndGlyphs">0</text>
<text x="952.4" y="107" font-size="26.2" textLength="53" lengthAdjust="spacingAndGlyphs">16.0</text>
<text x="1005.6" y="105.6" font-size="26.2" textLength="40" lengthAdjust="spacingAndGlyphs">4.0</text>
<text x="1043.5" y="105" font-size="26.2" textLength="22" lengthAdjust="spacingAndGlyphs">.0</text>
</g>
<path d="M213.5 1039.5 v14.6 M213.5 94.5 v-14.6 M810 1039.5 v14.6 M810 94.5 v-14.6 M1406.6 1039.5 v14.6 M1406.6 94.5 v-14.6 M2003.1 1039.5 v14.6 M2003.1 94.5 v-14.6 M213.5 94.5 h-14.6 M2102.5 94.5 h14.6 M213.5 252 h-14.6 M2102.5 252 h14.6 M213.5 409.5 h-14.6 M2102.5 409.5 h14.6 M213.5 567 h-14.6 M2102.5 567 h14.6 M213.5 724.5 h-14.6 M2102.5 724.5 h14.6 M213.5 882 h-14.6 M2102.5 882 h14.6 M213.5 1039.5 h-14.6 M2102.5 1039.5 h14.6" stroke="#000" stroke-width="3.33" fill="none"/>
<text x="213.5" y="1099.3" font-size="44.6" text-anchor="middle" textLength="87.9" lengthAdjust="spacingAndGlyphs">−30</text>
<text x="810" y="1099.3" font-size="44.6" text-anchor="middle" textLength="26.5" lengthAdjust="spacingAndGlyphs">0</text>
<text x="1406.6" y="1099.3" font-size="44.6" text-anchor="middle" textLength="53" lengthAdjust="spacingAndGlyphs">30</text>
<text x="2003.1" y="1099.3" font-size="44.6" text-anchor="middle" textLength="53" lengthAdjust="spacingAndGlyphs">60</text>
<text x="184.3" y="109.7" font-size="44.6" text-anchor="end" textLength="26.5" lengthAdjust="spacingAndGlyphs">0</text>
<text x="184.3" y="267.2" font-size="44.6" text-anchor="end" textLength="106.1" lengthAdjust="spacingAndGlyphs">1000</text>
<text x="184.3" y="424.7" font-size="44.6" text-anchor="end" textLength="106.1" lengthAdjust="spacingAndGlyphs">2000</text>
<text x="184.3" y="582.2" font-size="44.6" text-anchor="end" textLength="106.1" lengthAdjust="spacingAndGlyphs">3000</text>
<text x="184.3" y="739.7" font-size="44.6" text-anchor="end" textLength="106.1" lengthAdjust="spacingAndGlyphs">4000</text>
<text x="184.3" y="897.2" font-size="44.6" text-anchor="end" textLength="106.1" lengthAdjust="spacingAndGlyphs">5000</text>
<text x="184.3" y="1054.7" font-size="44.6" text-anchor="end" textLength="106.1" lengthAdjust="spacingAndGlyphs">6000</text>
<text x="1158.3" y="1157.8" font-size="43.8" text-anchor="middle" textLength="159.9" lengthAdjust="spacingAndGlyphs">latitude</text>
<text x="51" y="568.8" font-size="43.8" text-anchor="middle" textLength="207.6" lengthAdjust="spacingAndGlyphs" transform="rotate(-90 51 568.8)">depth [m]</text>
<text x="154.8" y="48.3" font-size="43.8" text-anchor="start" textLength="58.1" lengthAdjust="spacingAndGlyphs">(a)</text>
<text x="621.9" y="68.9" font-size="52.5" text-anchor="start" textLength="270.7" lengthAdjust="spacingAndGlyphs">indopacific</text>
<text x="910.4" y="68.9" font-size="52.5" text-anchor="start" textLength="266.4" lengthAdjust="spacingAndGlyphs">meridional</text>
<text x="1192.7" y="68.9" font-size="52.5" text-anchor="start" textLength="291.5" lengthAdjust="spacingAndGlyphs">overturning</text>
<text x="1500.7" y="68.9" font-size="52.5" text-anchor="start" textLength="80.2" lengthAdjust="spacingAndGlyphs">[kg</text>
<text x="1596.6" y="68.9" font-size="52.5" text-anchor="start" textLength="95.4" lengthAdjust="spacingAndGlyphs">s-1]</text>
<text x="492.7" y="1240" font-size="43.8" text-anchor="start" textLength="254.2" lengthAdjust="spacingAndGlyphs">min: -35.17;</text>
<text x="852.3" y="1240" font-size="43.8" text-anchor="start" textLength="293.8" lengthAdjust="spacingAndGlyphs">mean: -1.192;</text>
<text x="1252.6" y="1240" font-size="43.8" text-anchor="start" textLength="225.1" lengthAdjust="spacingAndGlyphs">std: 8.886;</text>
<text x="1582.7" y="1240" font-size="43.8" text-anchor="start" textLength="237.4" lengthAdjust="spacingAndGlyphs">max: 31.02</text>
<g shape-rendering="crispEdges">
<rect x="2137.5" y="137.4" width="59.1" height="39" fill="#870a24"/>
<rect x="2137.5" y="175.7" width="59.1" height="39" fill="#a51429"/>
<rect x="2137.5" y="211.5" width="59.1" height="39" fill="#ba2832"/>
<rect x="2137.5" y="247.3" width="59.1" height="39" fill="#c84440"/>
<rect x="2137.5" y="283.1" width="59.1" height="39" fill="#d6604d"/>
<rect x="2137.5" y="318.9" width="59.1" height="39" fill="#e37e64"/>
<rect x="2137.5" y="354.6" width="59.1" height="39" fill="#ef9979"/>
<rect x="2137.5" y="390.4" width="59.1" height="39" fill="#f6b191"/>
<rect x="2137.5" y="426.2" width="59.1" height="39" fill="#f9c6ac"/>
<rect x="2137.5" y="462" width="59.1" height="39" fill="#fddbc7"/>
<rect x="2137.5" y="497.8" width="59.1" height="39" fill="#fae7dc"/>
<rect x="2137.5" y="533.6" width="59.1" height="39" fill="#f8f2ef"/>
<rect x="2137.5" y="569.4" width="59.1" height="39" fill="#eff3f5"/>
<rect x="2137.5" y="605.2" width="59.1" height="39" fill="#e0ecf3"/>
<rect x="2137.5" y="641" width="59.1" height="39" fill="#d1e5f0"/>
<rect x="2137.5" y="676.8" width="59.1" height="39" fill="#b6d7e8"/>
<rect x="2137.5" y="712.6" width="59.1" height="39" fill="#9dcbe1"/>
<rect x="2137.5" y="748.4" width="59.1" height="39" fill="#81bad8"/>
<rect x="2137.5" y="784.1" width="59.1" height="39" fill="#62a7ce"/>
<rect x="2137.5" y="819.9" width="59.1" height="39" fill="#4393c3"/>
<rect x="2137.5" y="855.7" width="59.1" height="39" fill="#3480b9"/>
<rect x="2137.5" y="891.5" width="59.1" height="39" fill="#276eb0"/>
<rect x="2137.5" y="927.3" width="59.1" height="39" fill="#1b5a9c"/>
<rect x="2137.5" y="963.1" width="59.1" height="39" fill="#10457e"/>
</g>
<path d="M2137.5 137.4 L2167.1 94.5 L2196.6 137.4Z" fill="#67001f"/>
<path d="M2137.5 996.4 L2167.1 1039.5 L2196.6 996.4Z" fill="#053061"/>
<path d="M2137.5 137.4 L2167.1 94.5 L2196.6 137.4 L2196.6 996.4 L2167.1 1039.5 L2137.5 996.4Z" fill="none" stroke="#000" stroke-width="3.33" stroke-linejoin="miter"/>
<path d="M2196.6 137.4 h15.9 M2196.6 209 h15.9 M2196.6 280.6 h15.9 M2196.6 352.1 h15.9 M2196.6 423.7 h15.9 M2196.6 495.3 h15.9 M2196.6 566.9 h15.9 M2196.6 638.5 h15.9 M2196.6 710.1 h15.9 M2196.6 781.6 h15.9 M2196.6 853.2 h15.9 M2196.6 924.8 h15.9 M2196.6 996.4 h15.9" stroke="#000" stroke-width="3.33" fill="none"/>
<path d="M2196.6 173.2 h8.7 M2196.6 244.8 h8.7 M2196.6 316.4 h8.7 M2196.6 387.9 h8.7 M2196.6 459.5 h8.7 M2196.6 531.1 h8.7 M2196.6 602.7 h8.7 M2196.6 674.3 h8.7 M2196.6 745.9 h8.7 M2196.6 817.4 h8.7 M2196.6 889 h8.7 M2196.6 960.6 h8.7" stroke="#000" stroke-width="2.5" fill="none"/>
<text x="2225.3" y="152.6" font-size="44.6" text-anchor="start" textLength="53" lengthAdjust="spacingAndGlyphs">24</text>
<text x="2225.3" y="224.2" font-size="44.6" text-anchor="start" textLength="53" lengthAdjust="spacingAndGlyphs">20</text>
<text x="2225.3" y="295.8" font-size="44.6" text-anchor="start" textLength="53" lengthAdjust="spacingAndGlyphs">16</text>
<text x="2225.3" y="367.3" font-size="44.6" text-anchor="start" textLength="53" lengthAdjust="spacingAndGlyphs">12</text>
<text x="2225.3" y="438.9" font-size="44.6" text-anchor="start" textLength="26.5" lengthAdjust="spacingAndGlyphs">8</text>
<text x="2225.3" y="510.5" font-size="44.6" text-anchor="start" textLength="26.5" lengthAdjust="spacingAndGlyphs">4</text>
<text x="2225.3" y="582.1" font-size="44.6" text-anchor="start" textLength="26.5" lengthAdjust="spacingAndGlyphs">0</text>
<text x="2225.3" y="653.7" font-size="44.6" text-anchor="start" textLength="61.4" lengthAdjust="spacingAndGlyphs">−4</text>
<text x="2225.3" y="725.3" font-size="44.6" text-anchor="start" textLength="61.4" lengthAdjust="spacingAndGlyphs">−8</text>
<text x="2225.3" y="796.9" font-size="44.6" text-anchor="start" textLength="87.9" lengthAdjust="spacingAndGlyphs">−12</text>
<text x="2225.3" y="868.4" font-size="44.6" text-anchor="start" textLength="87.9" lengthAdjust="spacingAndGlyphs">−16</text>
<text x="2225.3" y="940" font-size="44.6" text-anchor="start" textLength="87.9" lengthAdjust="spacingAndGlyphs">−20</text>
<text x="2225.3" y="1011.6" font-size="44.6" text-anchor="start" textLength="87.9" lengthAdjust="spacingAndGlyphs">−24</text>
</svg>
</body></html>
